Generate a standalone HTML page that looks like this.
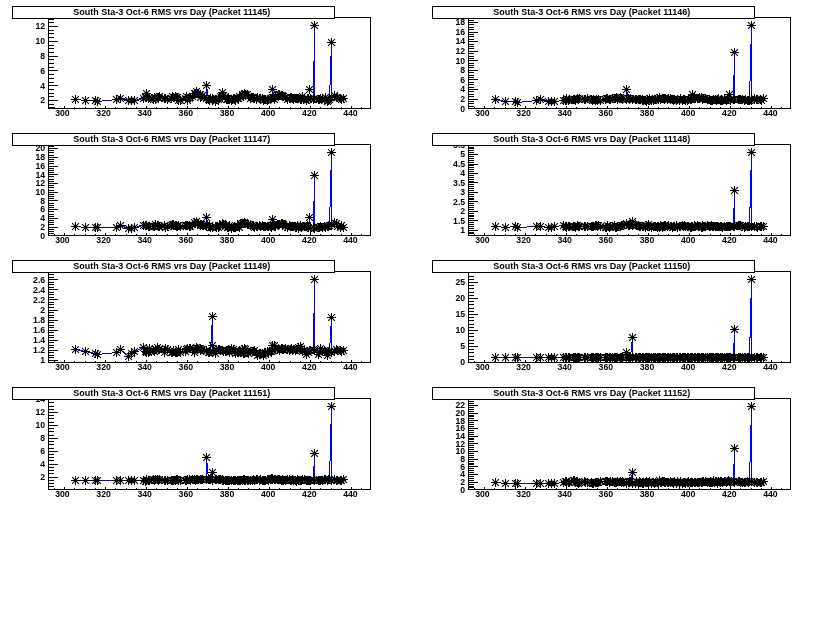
<!DOCTYPE html>
<html><head><meta charset="utf-8"><title>South Sta-3 Oct-6 RMS vrs Day</title>
<style>html,body{margin:0;padding:0;background:#fff}svg{display:block}</style></head>
<body>
<svg width="840" height="635" viewBox="0 0 840 635">
<defs><g id="m" stroke="#000" stroke-width="1" fill="none"><path d="M-4.5 0H4.5M0 -4.5V4.5" shape-rendering="crispEdges"/><path d="M-3.4 -3.4L3.4 3.4M-3.4 3.4L3.4 -3.4" stroke-width="1.1"/><rect x="-1.5" y="-1.5" width="3" height="3" fill="#000" stroke="none"/></g></defs>
<rect width="840" height="635" fill="#fff"/>
<g transform="translate(0,0)">
<rect x="48.5" y="17.5" width="322.00" height="91.00" fill="#fff" stroke="#000" stroke-width="1" shape-rendering="crispEdges"/>
<path d="M48.5 107.5H54M48.5 104.5H54M48.5 100.5H58M48.5 96.5H54M48.5 93.5H54M48.5 89.5H54M48.5 85.5H58M48.5 82.5H54M48.5 78.5H54M48.5 74.5H54M48.5 70.5H58M48.5 67.5H54M48.5 63.5H54M48.5 59.5H54M48.5 56.5H58M48.5 52.5H54M48.5 48.5H54M48.5 45.5H54M48.5 41.5H58M48.5 37.5H54M48.5 33.5H54M48.5 30.5H54M48.5 26.5H58M48.5 22.5H54M48.5 19.5H54M54.5 108.5V107.00M64.5 108.5V106.00M74.5 108.5V107.00M85.5 108.5V107.00M95.5 108.5V107.00M105.5 108.5V106.00M115.5 108.5V107.00M126.5 108.5V107.00M136.5 108.5V107.00M146.5 108.5V106.00M156.5 108.5V107.00M167.5 108.5V107.00M177.5 108.5V107.00M187.5 108.5V106.00M197.5 108.5V107.00M208.5 108.5V107.00M218.5 108.5V107.00M228.5 108.5V106.00M238.5 108.5V107.00M248.5 108.5V107.00M259.5 108.5V107.00M269.5 108.5V106.00M279.5 108.5V107.00M290.5 108.5V107.00M300.5 108.5V107.00M310.5 108.5V106.00M320.5 108.5V107.00M331.5 108.5V107.00M341.5 108.5V107.00M351.5 108.5V106.00M361.5 108.5V107.00" stroke="#000" stroke-width="1" fill="none" shape-rendering="crispEdges"/>
<text x="45.2" y="103.35" text-anchor="end" font-family="Liberation Sans, Arial, Helvetica, sans-serif" font-weight="bold" font-size="8.7" fill="#000">2</text>
<text x="45.2" y="88.57" text-anchor="end" font-family="Liberation Sans, Arial, Helvetica, sans-serif" font-weight="bold" font-size="8.7" fill="#000">4</text>
<text x="45.2" y="73.79" text-anchor="end" font-family="Liberation Sans, Arial, Helvetica, sans-serif" font-weight="bold" font-size="8.7" fill="#000">6</text>
<text x="45.2" y="59.01" text-anchor="end" font-family="Liberation Sans, Arial, Helvetica, sans-serif" font-weight="bold" font-size="8.7" fill="#000">8</text>
<text x="45.2" y="44.23" text-anchor="end" font-family="Liberation Sans, Arial, Helvetica, sans-serif" font-weight="bold" font-size="8.7" fill="#000">10</text>
<text x="45.2" y="29.45" text-anchor="end" font-family="Liberation Sans, Arial, Helvetica, sans-serif" font-weight="bold" font-size="8.7" fill="#000">12</text>
<text x="62.40" y="116.1" text-anchor="middle" font-family="Liberation Sans, Arial, Helvetica, sans-serif" font-weight="bold" font-size="8.7" fill="#000">300</text>
<text x="103.55" y="116.1" text-anchor="middle" font-family="Liberation Sans, Arial, Helvetica, sans-serif" font-weight="bold" font-size="8.7" fill="#000">320</text>
<text x="144.70" y="116.1" text-anchor="middle" font-family="Liberation Sans, Arial, Helvetica, sans-serif" font-weight="bold" font-size="8.7" fill="#000">340</text>
<text x="185.85" y="116.1" text-anchor="middle" font-family="Liberation Sans, Arial, Helvetica, sans-serif" font-weight="bold" font-size="8.7" fill="#000">360</text>
<text x="227.00" y="116.1" text-anchor="middle" font-family="Liberation Sans, Arial, Helvetica, sans-serif" font-weight="bold" font-size="8.7" fill="#000">380</text>
<text x="268.15" y="116.1" text-anchor="middle" font-family="Liberation Sans, Arial, Helvetica, sans-serif" font-weight="bold" font-size="8.7" fill="#000">400</text>
<text x="309.30" y="116.1" text-anchor="middle" font-family="Liberation Sans, Arial, Helvetica, sans-serif" font-weight="bold" font-size="8.7" fill="#000">420</text>
<text x="350.45" y="116.1" text-anchor="middle" font-family="Liberation Sans, Arial, Helvetica, sans-serif" font-weight="bold" font-size="8.7" fill="#000">440</text>
<polyline fill="none" stroke="#0000ff" stroke-width="1" shape-rendering="crispEdges" points="75.5,99.5 85.5,100.5 95.5,100.5 97.5,101.5 116.5,99.5 120.5,98.5 128.5,100.5 131.5,100.5 134.5,100.5 143.5,98.5 145.5,97.5 146.5,97.5 146.5,93.5 148.5,98.5 149.5,97.5 153.5,99.5 154.5,97.5 155.5,99.5 157.5,97.5 158.5,97.5 159.5,96.5 164.5,98.5 165.5,98.5 167.5,99.5 171.5,98.5 172.5,96.5 173.5,97.5 175.5,96.5 176.5,97.5 177.5,97.5 178.5,100.5 180.5,100.5 185.5,98.5 186.5,96.5 187.5,100.5 189.5,98.5 190.5,97.5 192.5,96.5 194.5,93.5 195.5,93.5 196.5,91.5 197.5,93.5 200.5,94.5 200.5,97.5 201.5,96.5 202.5,95.5 206.5,98.5 206.5,85.5 208.5,99.5 209.5,100.5 210.5,98.5 212.5,98.5 212.5,99.5 215.5,101.5 216.5,99.5 218.5,99.5 219.5,98.5 220.5,96.5 222.5,96.5 222.5,92.5 223.5,95.5 225.5,96.5 226.5,99.5 227.5,99.5 228.5,98.5 229.5,99.5 231.5,100.5 233.5,98.5 234.5,98.5 235.5,100.5 237.5,98.5 238.5,98.5 239.5,96.5 240.5,97.5 242.5,94.5 243.5,95.5 244.5,94.5 244.5,93.5 245.5,94.5 247.5,94.5 248.5,96.5 250.5,98.5 252.5,97.5 253.5,97.5 254.5,98.5 256.5,99.5 257.5,97.5 259.5,98.5 260.5,98.5 262.5,98.5 263.5,100.5 264.5,99.5 265.5,99.5 267.5,100.5 268.5,99.5 270.5,98.5 271.5,98.5 272.5,97.5 272.5,89.5 274.5,99.5 275.5,97.5 277.5,95.5 278.5,94.5 279.5,94.5 281.5,95.5 282.5,95.5 282.5,96.5 283.5,96.5 285.5,97.5 287.5,99.5 289.5,98.5 290.5,97.5 291.5,97.5 292.5,98.5 293.5,99.5 295.5,98.5 296.5,98.5 297.5,98.5 298.5,98.5 300.5,99.5 301.5,99.5 302.5,96.5 304.5,98.5 306.5,100.5 307.5,98.5 308.5,99.5 309.5,89.5 310.5,98.5 313.5,99.5 314.5,25.5 314.5,98.5 318.5,99.5 319.5,99.5 320.5,98.5 322.5,98.5 324.5,100.5 325.5,97.5 327.5,101.5 328.5,100.5 329.5,99.5 331.5,42.5 331.5,97.5 334.5,95.5 336.5,97.5 337.5,97.5 340.5,98.5 341.5,99.5 343.5,98.5"/>
<use href="#m" x="75.5" y="99.5"/><use href="#m" x="85.5" y="100.5"/><use href="#m" x="95.5" y="100.5"/><use href="#m" x="97.5" y="101.5"/><use href="#m" x="116.5" y="99.5"/><use href="#m" x="120.5" y="98.5"/><use href="#m" x="128.5" y="100.5"/><use href="#m" x="131.5" y="100.5"/><use href="#m" x="134.5" y="100.5"/><use href="#m" x="143.5" y="98.5"/><use href="#m" x="145.5" y="97.5"/><use href="#m" x="146.5" y="97.5"/><use href="#m" x="146.5" y="93.5"/><use href="#m" x="148.5" y="98.5"/><use href="#m" x="149.5" y="97.5"/><use href="#m" x="153.5" y="99.5"/><use href="#m" x="154.5" y="97.5"/><use href="#m" x="155.5" y="99.5"/><use href="#m" x="157.5" y="97.5"/><use href="#m" x="158.5" y="97.5"/><use href="#m" x="159.5" y="96.5"/><use href="#m" x="164.5" y="98.5"/><use href="#m" x="165.5" y="98.5"/><use href="#m" x="167.5" y="99.5"/><use href="#m" x="171.5" y="98.5"/><use href="#m" x="172.5" y="96.5"/><use href="#m" x="173.5" y="97.5"/><use href="#m" x="175.5" y="96.5"/><use href="#m" x="176.5" y="97.5"/><use href="#m" x="177.5" y="97.5"/><use href="#m" x="178.5" y="100.5"/><use href="#m" x="180.5" y="100.5"/><use href="#m" x="185.5" y="98.5"/><use href="#m" x="186.5" y="96.5"/><use href="#m" x="187.5" y="100.5"/><use href="#m" x="189.5" y="98.5"/><use href="#m" x="190.5" y="97.5"/><use href="#m" x="192.5" y="96.5"/><use href="#m" x="194.5" y="93.5"/><use href="#m" x="195.5" y="93.5"/><use href="#m" x="196.5" y="91.5"/><use href="#m" x="197.5" y="93.5"/><use href="#m" x="200.5" y="94.5"/><use href="#m" x="200.5" y="97.5"/><use href="#m" x="201.5" y="96.5"/><use href="#m" x="202.5" y="95.5"/><use href="#m" x="206.5" y="98.5"/><use href="#m" x="206.5" y="85.5"/><use href="#m" x="208.5" y="99.5"/><use href="#m" x="209.5" y="100.5"/><use href="#m" x="210.5" y="98.5"/><use href="#m" x="212.5" y="98.5"/><use href="#m" x="212.5" y="99.5"/><use href="#m" x="215.5" y="101.5"/><use href="#m" x="216.5" y="99.5"/><use href="#m" x="218.5" y="99.5"/><use href="#m" x="219.5" y="98.5"/><use href="#m" x="220.5" y="96.5"/><use href="#m" x="222.5" y="96.5"/><use href="#m" x="222.5" y="92.5"/><use href="#m" x="223.5" y="95.5"/><use href="#m" x="225.5" y="96.5"/><use href="#m" x="226.5" y="99.5"/><use href="#m" x="227.5" y="99.5"/><use href="#m" x="228.5" y="98.5"/><use href="#m" x="229.5" y="99.5"/><use href="#m" x="231.5" y="100.5"/><use href="#m" x="233.5" y="98.5"/><use href="#m" x="234.5" y="98.5"/><use href="#m" x="235.5" y="100.5"/><use href="#m" x="237.5" y="98.5"/><use href="#m" x="238.5" y="98.5"/><use href="#m" x="239.5" y="96.5"/><use href="#m" x="240.5" y="97.5"/><use href="#m" x="242.5" y="94.5"/><use href="#m" x="243.5" y="95.5"/><use href="#m" x="244.5" y="94.5"/><use href="#m" x="244.5" y="93.5"/><use href="#m" x="245.5" y="94.5"/><use href="#m" x="247.5" y="94.5"/><use href="#m" x="248.5" y="96.5"/><use href="#m" x="250.5" y="98.5"/><use href="#m" x="252.5" y="97.5"/><use href="#m" x="253.5" y="97.5"/><use href="#m" x="254.5" y="98.5"/><use href="#m" x="256.5" y="99.5"/><use href="#m" x="257.5" y="97.5"/><use href="#m" x="259.5" y="98.5"/><use href="#m" x="260.5" y="98.5"/><use href="#m" x="262.5" y="98.5"/><use href="#m" x="263.5" y="100.5"/><use href="#m" x="264.5" y="99.5"/><use href="#m" x="265.5" y="99.5"/><use href="#m" x="267.5" y="100.5"/><use href="#m" x="268.5" y="99.5"/><use href="#m" x="270.5" y="98.5"/><use href="#m" x="271.5" y="98.5"/><use href="#m" x="272.5" y="97.5"/><use href="#m" x="272.5" y="89.5"/><use href="#m" x="274.5" y="99.5"/><use href="#m" x="275.5" y="97.5"/><use href="#m" x="277.5" y="95.5"/><use href="#m" x="278.5" y="94.5"/><use href="#m" x="279.5" y="94.5"/><use href="#m" x="281.5" y="95.5"/><use href="#m" x="282.5" y="95.5"/><use href="#m" x="282.5" y="96.5"/><use href="#m" x="283.5" y="96.5"/><use href="#m" x="285.5" y="97.5"/><use href="#m" x="287.5" y="99.5"/><use href="#m" x="289.5" y="98.5"/><use href="#m" x="290.5" y="97.5"/><use href="#m" x="291.5" y="97.5"/><use href="#m" x="292.5" y="98.5"/><use href="#m" x="293.5" y="99.5"/><use href="#m" x="295.5" y="98.5"/><use href="#m" x="296.5" y="98.5"/><use href="#m" x="297.5" y="98.5"/><use href="#m" x="298.5" y="98.5"/><use href="#m" x="300.5" y="99.5"/><use href="#m" x="301.5" y="99.5"/><use href="#m" x="302.5" y="96.5"/><use href="#m" x="304.5" y="98.5"/><use href="#m" x="306.5" y="100.5"/><use href="#m" x="307.5" y="98.5"/><use href="#m" x="308.5" y="99.5"/><use href="#m" x="309.5" y="89.5"/><use href="#m" x="310.5" y="98.5"/><use href="#m" x="313.5" y="99.5"/><use href="#m" x="314.5" y="25.5"/><use href="#m" x="314.5" y="98.5"/><use href="#m" x="318.5" y="99.5"/><use href="#m" x="319.5" y="99.5"/><use href="#m" x="320.5" y="98.5"/><use href="#m" x="322.5" y="98.5"/><use href="#m" x="324.5" y="100.5"/><use href="#m" x="325.5" y="97.5"/><use href="#m" x="327.5" y="101.5"/><use href="#m" x="328.5" y="100.5"/><use href="#m" x="329.5" y="99.5"/><use href="#m" x="331.5" y="42.5"/><use href="#m" x="331.5" y="97.5"/><use href="#m" x="334.5" y="95.5"/><use href="#m" x="336.5" y="97.5"/><use href="#m" x="337.5" y="97.5"/><use href="#m" x="340.5" y="98.5"/><use href="#m" x="341.5" y="99.5"/><use href="#m" x="343.5" y="98.5"/>
<rect x="12.5" y="6.5" width="322.00" height="12.00" fill="#fff" stroke="#000" stroke-width="1" shape-rendering="crispEdges"/>
<text x="171.8" y="14.6" text-anchor="middle" font-family="Liberation Sans, Arial, Helvetica, sans-serif" font-weight="bold" font-size="9" fill="#000">South Sta-3 Oct-6 RMS vrs Day (Packet 11145)</text>
</g>
<g transform="translate(420,0)">
<rect x="48.5" y="17.5" width="322.00" height="91.00" fill="#fff" stroke="#000" stroke-width="1" shape-rendering="crispEdges"/>
<path d="M48.5 106.5H54M48.5 103.5H54M48.5 101.5H54M48.5 99.5H58M48.5 96.5H54M48.5 94.5H54M48.5 91.5H54M48.5 89.5H58M48.5 87.5H54M48.5 84.5H54M48.5 82.5H54M48.5 79.5H58M48.5 77.5H54M48.5 75.5H54M48.5 72.5H54M48.5 70.5H58M48.5 67.5H54M48.5 65.5H54M48.5 63.5H54M48.5 60.5H58M48.5 58.5H54M48.5 56.5H54M48.5 53.5H54M48.5 51.5H58M48.5 48.5H54M48.5 46.5H54M48.5 44.5H54M48.5 41.5H58M48.5 39.5H54M48.5 36.5H54M48.5 34.5H54M48.5 32.5H58M48.5 29.5H54M48.5 27.5H54M48.5 24.5H54M48.5 22.5H58M48.5 20.5H54M48.5 17.5H54M54.5 108.5V107.00M64.5 108.5V106.00M74.5 108.5V107.00M85.5 108.5V107.00M95.5 108.5V107.00M105.5 108.5V106.00M115.5 108.5V107.00M126.5 108.5V107.00M136.5 108.5V107.00M146.5 108.5V106.00M156.5 108.5V107.00M167.5 108.5V107.00M177.5 108.5V107.00M187.5 108.5V106.00M197.5 108.5V107.00M208.5 108.5V107.00M218.5 108.5V107.00M228.5 108.5V106.00M238.5 108.5V107.00M248.5 108.5V107.00M259.5 108.5V107.00M269.5 108.5V106.00M279.5 108.5V107.00M290.5 108.5V107.00M300.5 108.5V107.00M310.5 108.5V106.00M320.5 108.5V107.00M331.5 108.5V107.00M341.5 108.5V107.00M351.5 108.5V106.00M361.5 108.5V107.00" stroke="#000" stroke-width="1" fill="none" shape-rendering="crispEdges"/>
<text x="45.2" y="111.55" text-anchor="end" font-family="Liberation Sans, Arial, Helvetica, sans-serif" font-weight="bold" font-size="8.7" fill="#000">0</text>
<text x="45.2" y="101.97" text-anchor="end" font-family="Liberation Sans, Arial, Helvetica, sans-serif" font-weight="bold" font-size="8.7" fill="#000">2</text>
<text x="45.2" y="92.39" text-anchor="end" font-family="Liberation Sans, Arial, Helvetica, sans-serif" font-weight="bold" font-size="8.7" fill="#000">4</text>
<text x="45.2" y="82.81" text-anchor="end" font-family="Liberation Sans, Arial, Helvetica, sans-serif" font-weight="bold" font-size="8.7" fill="#000">6</text>
<text x="45.2" y="73.23" text-anchor="end" font-family="Liberation Sans, Arial, Helvetica, sans-serif" font-weight="bold" font-size="8.7" fill="#000">8</text>
<text x="45.2" y="63.65" text-anchor="end" font-family="Liberation Sans, Arial, Helvetica, sans-serif" font-weight="bold" font-size="8.7" fill="#000">10</text>
<text x="45.2" y="54.07" text-anchor="end" font-family="Liberation Sans, Arial, Helvetica, sans-serif" font-weight="bold" font-size="8.7" fill="#000">12</text>
<text x="45.2" y="44.49" text-anchor="end" font-family="Liberation Sans, Arial, Helvetica, sans-serif" font-weight="bold" font-size="8.7" fill="#000">14</text>
<text x="45.2" y="34.91" text-anchor="end" font-family="Liberation Sans, Arial, Helvetica, sans-serif" font-weight="bold" font-size="8.7" fill="#000">16</text>
<text x="45.2" y="25.33" text-anchor="end" font-family="Liberation Sans, Arial, Helvetica, sans-serif" font-weight="bold" font-size="8.7" fill="#000">18</text>
<text x="62.40" y="116.1" text-anchor="middle" font-family="Liberation Sans, Arial, Helvetica, sans-serif" font-weight="bold" font-size="8.7" fill="#000">300</text>
<text x="103.55" y="116.1" text-anchor="middle" font-family="Liberation Sans, Arial, Helvetica, sans-serif" font-weight="bold" font-size="8.7" fill="#000">320</text>
<text x="144.70" y="116.1" text-anchor="middle" font-family="Liberation Sans, Arial, Helvetica, sans-serif" font-weight="bold" font-size="8.7" fill="#000">340</text>
<text x="185.85" y="116.1" text-anchor="middle" font-family="Liberation Sans, Arial, Helvetica, sans-serif" font-weight="bold" font-size="8.7" fill="#000">360</text>
<text x="227.00" y="116.1" text-anchor="middle" font-family="Liberation Sans, Arial, Helvetica, sans-serif" font-weight="bold" font-size="8.7" fill="#000">380</text>
<text x="268.15" y="116.1" text-anchor="middle" font-family="Liberation Sans, Arial, Helvetica, sans-serif" font-weight="bold" font-size="8.7" fill="#000">400</text>
<text x="309.30" y="116.1" text-anchor="middle" font-family="Liberation Sans, Arial, Helvetica, sans-serif" font-weight="bold" font-size="8.7" fill="#000">420</text>
<text x="350.45" y="116.1" text-anchor="middle" font-family="Liberation Sans, Arial, Helvetica, sans-serif" font-weight="bold" font-size="8.7" fill="#000">440</text>
<polyline fill="none" stroke="#0000ff" stroke-width="1" shape-rendering="crispEdges" points="75.5,99.5 85.5,101.5 95.5,101.5 97.5,102.5 116.5,100.5 120.5,99.5 128.5,101.5 131.5,101.5 134.5,101.5 143.5,100.5 145.5,100.5 146.5,98.5 146.5,100.5 148.5,100.5 149.5,99.5 153.5,99.5 154.5,99.5 155.5,100.5 157.5,98.5 158.5,99.5 159.5,98.5 164.5,99.5 165.5,99.5 167.5,98.5 171.5,99.5 172.5,100.5 173.5,99.5 175.5,100.5 176.5,99.5 177.5,100.5 178.5,99.5 180.5,100.5 185.5,99.5 186.5,98.5 187.5,98.5 189.5,99.5 190.5,99.5 192.5,98.5 194.5,98.5 195.5,98.5 196.5,97.5 197.5,99.5 200.5,97.5 200.5,97.5 201.5,98.5 202.5,99.5 206.5,99.5 206.5,89.5 208.5,98.5 209.5,99.5 210.5,98.5 212.5,99.5 212.5,99.5 215.5,99.5 216.5,99.5 218.5,99.5 219.5,99.5 220.5,99.5 222.5,99.5 222.5,100.5 223.5,100.5 225.5,100.5 226.5,101.5 227.5,99.5 228.5,100.5 229.5,98.5 231.5,100.5 233.5,100.5 234.5,99.5 235.5,99.5 237.5,98.5 238.5,99.5 239.5,97.5 240.5,99.5 242.5,98.5 243.5,98.5 244.5,98.5 244.5,99.5 245.5,98.5 247.5,99.5 248.5,98.5 250.5,98.5 252.5,99.5 253.5,100.5 254.5,99.5 256.5,100.5 257.5,99.5 259.5,100.5 260.5,98.5 262.5,100.5 263.5,99.5 264.5,99.5 265.5,100.5 267.5,100.5 268.5,99.5 270.5,99.5 271.5,99.5 272.5,98.5 272.5,94.5 274.5,97.5 275.5,98.5 277.5,98.5 278.5,98.5 279.5,97.5 281.5,97.5 282.5,98.5 282.5,99.5 283.5,98.5 285.5,98.5 287.5,99.5 289.5,99.5 290.5,100.5 291.5,100.5 292.5,100.5 293.5,99.5 295.5,99.5 296.5,100.5 297.5,99.5 298.5,98.5 300.5,100.5 301.5,100.5 302.5,100.5 304.5,98.5 306.5,100.5 307.5,98.5 308.5,99.5 309.5,94.5 310.5,100.5 313.5,99.5 314.5,52.5 314.5,99.5 318.5,99.5 319.5,99.5 320.5,99.5 322.5,99.5 324.5,100.5 325.5,99.5 327.5,100.5 328.5,100.5 329.5,100.5 331.5,25.5 331.5,100.5 334.5,98.5 336.5,99.5 337.5,99.5 340.5,99.5 341.5,100.5 343.5,98.5"/>
<use href="#m" x="75.5" y="99.5"/><use href="#m" x="85.5" y="101.5"/><use href="#m" x="95.5" y="101.5"/><use href="#m" x="97.5" y="102.5"/><use href="#m" x="116.5" y="100.5"/><use href="#m" x="120.5" y="99.5"/><use href="#m" x="128.5" y="101.5"/><use href="#m" x="131.5" y="101.5"/><use href="#m" x="134.5" y="101.5"/><use href="#m" x="143.5" y="100.5"/><use href="#m" x="145.5" y="100.5"/><use href="#m" x="146.5" y="98.5"/><use href="#m" x="146.5" y="100.5"/><use href="#m" x="148.5" y="100.5"/><use href="#m" x="149.5" y="99.5"/><use href="#m" x="153.5" y="99.5"/><use href="#m" x="154.5" y="99.5"/><use href="#m" x="155.5" y="100.5"/><use href="#m" x="157.5" y="98.5"/><use href="#m" x="158.5" y="99.5"/><use href="#m" x="159.5" y="98.5"/><use href="#m" x="164.5" y="99.5"/><use href="#m" x="165.5" y="99.5"/><use href="#m" x="167.5" y="98.5"/><use href="#m" x="171.5" y="99.5"/><use href="#m" x="172.5" y="100.5"/><use href="#m" x="173.5" y="99.5"/><use href="#m" x="175.5" y="100.5"/><use href="#m" x="176.5" y="99.5"/><use href="#m" x="177.5" y="100.5"/><use href="#m" x="178.5" y="99.5"/><use href="#m" x="180.5" y="100.5"/><use href="#m" x="185.5" y="99.5"/><use href="#m" x="186.5" y="98.5"/><use href="#m" x="187.5" y="98.5"/><use href="#m" x="189.5" y="99.5"/><use href="#m" x="190.5" y="99.5"/><use href="#m" x="192.5" y="98.5"/><use href="#m" x="194.5" y="98.5"/><use href="#m" x="195.5" y="98.5"/><use href="#m" x="196.5" y="97.5"/><use href="#m" x="197.5" y="99.5"/><use href="#m" x="200.5" y="97.5"/><use href="#m" x="200.5" y="97.5"/><use href="#m" x="201.5" y="98.5"/><use href="#m" x="202.5" y="99.5"/><use href="#m" x="206.5" y="99.5"/><use href="#m" x="206.5" y="89.5"/><use href="#m" x="208.5" y="98.5"/><use href="#m" x="209.5" y="99.5"/><use href="#m" x="210.5" y="98.5"/><use href="#m" x="212.5" y="99.5"/><use href="#m" x="212.5" y="99.5"/><use href="#m" x="215.5" y="99.5"/><use href="#m" x="216.5" y="99.5"/><use href="#m" x="218.5" y="99.5"/><use href="#m" x="219.5" y="99.5"/><use href="#m" x="220.5" y="99.5"/><use href="#m" x="222.5" y="99.5"/><use href="#m" x="222.5" y="100.5"/><use href="#m" x="223.5" y="100.5"/><use href="#m" x="225.5" y="100.5"/><use href="#m" x="226.5" y="101.5"/><use href="#m" x="227.5" y="99.5"/><use href="#m" x="228.5" y="100.5"/><use href="#m" x="229.5" y="98.5"/><use href="#m" x="231.5" y="100.5"/><use href="#m" x="233.5" y="100.5"/><use href="#m" x="234.5" y="99.5"/><use href="#m" x="235.5" y="99.5"/><use href="#m" x="237.5" y="98.5"/><use href="#m" x="238.5" y="99.5"/><use href="#m" x="239.5" y="97.5"/><use href="#m" x="240.5" y="99.5"/><use href="#m" x="242.5" y="98.5"/><use href="#m" x="243.5" y="98.5"/><use href="#m" x="244.5" y="98.5"/><use href="#m" x="244.5" y="99.5"/><use href="#m" x="245.5" y="98.5"/><use href="#m" x="247.5" y="99.5"/><use href="#m" x="248.5" y="98.5"/><use href="#m" x="250.5" y="98.5"/><use href="#m" x="252.5" y="99.5"/><use href="#m" x="253.5" y="100.5"/><use href="#m" x="254.5" y="99.5"/><use href="#m" x="256.5" y="100.5"/><use href="#m" x="257.5" y="99.5"/><use href="#m" x="259.5" y="100.5"/><use href="#m" x="260.5" y="98.5"/><use href="#m" x="262.5" y="100.5"/><use href="#m" x="263.5" y="99.5"/><use href="#m" x="264.5" y="99.5"/><use href="#m" x="265.5" y="100.5"/><use href="#m" x="267.5" y="100.5"/><use href="#m" x="268.5" y="99.5"/><use href="#m" x="270.5" y="99.5"/><use href="#m" x="271.5" y="99.5"/><use href="#m" x="272.5" y="98.5"/><use href="#m" x="272.5" y="94.5"/><use href="#m" x="274.5" y="97.5"/><use href="#m" x="275.5" y="98.5"/><use href="#m" x="277.5" y="98.5"/><use href="#m" x="278.5" y="98.5"/><use href="#m" x="279.5" y="97.5"/><use href="#m" x="281.5" y="97.5"/><use href="#m" x="282.5" y="98.5"/><use href="#m" x="282.5" y="99.5"/><use href="#m" x="283.5" y="98.5"/><use href="#m" x="285.5" y="98.5"/><use href="#m" x="287.5" y="99.5"/><use href="#m" x="289.5" y="99.5"/><use href="#m" x="290.5" y="100.5"/><use href="#m" x="291.5" y="100.5"/><use href="#m" x="292.5" y="100.5"/><use href="#m" x="293.5" y="99.5"/><use href="#m" x="295.5" y="99.5"/><use href="#m" x="296.5" y="100.5"/><use href="#m" x="297.5" y="99.5"/><use href="#m" x="298.5" y="98.5"/><use href="#m" x="300.5" y="100.5"/><use href="#m" x="301.5" y="100.5"/><use href="#m" x="302.5" y="100.5"/><use href="#m" x="304.5" y="98.5"/><use href="#m" x="306.5" y="100.5"/><use href="#m" x="307.5" y="98.5"/><use href="#m" x="308.5" y="99.5"/><use href="#m" x="309.5" y="94.5"/><use href="#m" x="310.5" y="100.5"/><use href="#m" x="313.5" y="99.5"/><use href="#m" x="314.5" y="52.5"/><use href="#m" x="314.5" y="99.5"/><use href="#m" x="318.5" y="99.5"/><use href="#m" x="319.5" y="99.5"/><use href="#m" x="320.5" y="99.5"/><use href="#m" x="322.5" y="99.5"/><use href="#m" x="324.5" y="100.5"/><use href="#m" x="325.5" y="99.5"/><use href="#m" x="327.5" y="100.5"/><use href="#m" x="328.5" y="100.5"/><use href="#m" x="329.5" y="100.5"/><use href="#m" x="331.5" y="25.5"/><use href="#m" x="331.5" y="100.5"/><use href="#m" x="334.5" y="98.5"/><use href="#m" x="336.5" y="99.5"/><use href="#m" x="337.5" y="99.5"/><use href="#m" x="340.5" y="99.5"/><use href="#m" x="341.5" y="100.5"/><use href="#m" x="343.5" y="98.5"/>
<rect x="12.5" y="6.5" width="322.00" height="12.00" fill="#fff" stroke="#000" stroke-width="1" shape-rendering="crispEdges"/>
<text x="171.8" y="14.6" text-anchor="middle" font-family="Liberation Sans, Arial, Helvetica, sans-serif" font-weight="bold" font-size="9" fill="#000">South Sta-3 Oct-6 RMS vrs Day (Packet 11146)</text>
</g>
<g transform="translate(0,127)">
<rect x="48.5" y="17.5" width="322.00" height="91.00" fill="#fff" stroke="#000" stroke-width="1" shape-rendering="crispEdges"/>
<path d="M48.5 106.5H54M48.5 104.5H54M48.5 102.5H54M48.5 100.5H58M48.5 97.5H54M48.5 95.5H54M48.5 93.5H54M48.5 91.5H58M48.5 89.5H54M48.5 87.5H54M48.5 84.5H54M48.5 82.5H58M48.5 80.5H54M48.5 78.5H54M48.5 76.5H54M48.5 73.5H58M48.5 71.5H54M48.5 69.5H54M48.5 67.5H54M48.5 65.5H58M48.5 63.5H54M48.5 60.5H54M48.5 58.5H54M48.5 56.5H58M48.5 54.5H54M48.5 52.5H54M48.5 49.5H54M48.5 47.5H58M48.5 45.5H54M48.5 43.5H54M48.5 41.5H54M48.5 39.5H58M48.5 36.5H54M48.5 34.5H54M48.5 32.5H54M48.5 30.5H58M48.5 28.5H54M48.5 25.5H54M48.5 23.5H54M48.5 21.5H58M48.5 19.5H54M54.5 108.5V107.00M64.5 108.5V106.00M74.5 108.5V107.00M85.5 108.5V107.00M95.5 108.5V107.00M105.5 108.5V106.00M115.5 108.5V107.00M126.5 108.5V107.00M136.5 108.5V107.00M146.5 108.5V106.00M156.5 108.5V107.00M167.5 108.5V107.00M177.5 108.5V107.00M187.5 108.5V106.00M197.5 108.5V107.00M208.5 108.5V107.00M218.5 108.5V107.00M228.5 108.5V106.00M238.5 108.5V107.00M248.5 108.5V107.00M259.5 108.5V107.00M269.5 108.5V106.00M279.5 108.5V107.00M290.5 108.5V107.00M300.5 108.5V107.00M310.5 108.5V106.00M320.5 108.5V107.00M331.5 108.5V107.00M341.5 108.5V107.00M351.5 108.5V106.00M361.5 108.5V107.00" stroke="#000" stroke-width="1" fill="none" shape-rendering="crispEdges"/>
<text x="45.2" y="111.65" text-anchor="end" font-family="Liberation Sans, Arial, Helvetica, sans-serif" font-weight="bold" font-size="8.7" fill="#000">0</text>
<text x="45.2" y="102.93" text-anchor="end" font-family="Liberation Sans, Arial, Helvetica, sans-serif" font-weight="bold" font-size="8.7" fill="#000">2</text>
<text x="45.2" y="94.21" text-anchor="end" font-family="Liberation Sans, Arial, Helvetica, sans-serif" font-weight="bold" font-size="8.7" fill="#000">4</text>
<text x="45.2" y="85.49" text-anchor="end" font-family="Liberation Sans, Arial, Helvetica, sans-serif" font-weight="bold" font-size="8.7" fill="#000">6</text>
<text x="45.2" y="76.77" text-anchor="end" font-family="Liberation Sans, Arial, Helvetica, sans-serif" font-weight="bold" font-size="8.7" fill="#000">8</text>
<text x="45.2" y="68.05" text-anchor="end" font-family="Liberation Sans, Arial, Helvetica, sans-serif" font-weight="bold" font-size="8.7" fill="#000">10</text>
<text x="45.2" y="59.33" text-anchor="end" font-family="Liberation Sans, Arial, Helvetica, sans-serif" font-weight="bold" font-size="8.7" fill="#000">12</text>
<text x="45.2" y="50.61" text-anchor="end" font-family="Liberation Sans, Arial, Helvetica, sans-serif" font-weight="bold" font-size="8.7" fill="#000">14</text>
<text x="45.2" y="41.89" text-anchor="end" font-family="Liberation Sans, Arial, Helvetica, sans-serif" font-weight="bold" font-size="8.7" fill="#000">16</text>
<text x="45.2" y="33.17" text-anchor="end" font-family="Liberation Sans, Arial, Helvetica, sans-serif" font-weight="bold" font-size="8.7" fill="#000">18</text>
<text x="45.2" y="24.45" text-anchor="end" font-family="Liberation Sans, Arial, Helvetica, sans-serif" font-weight="bold" font-size="8.7" fill="#000">20</text>
<text x="62.40" y="116.1" text-anchor="middle" font-family="Liberation Sans, Arial, Helvetica, sans-serif" font-weight="bold" font-size="8.7" fill="#000">300</text>
<text x="103.55" y="116.1" text-anchor="middle" font-family="Liberation Sans, Arial, Helvetica, sans-serif" font-weight="bold" font-size="8.7" fill="#000">320</text>
<text x="144.70" y="116.1" text-anchor="middle" font-family="Liberation Sans, Arial, Helvetica, sans-serif" font-weight="bold" font-size="8.7" fill="#000">340</text>
<text x="185.85" y="116.1" text-anchor="middle" font-family="Liberation Sans, Arial, Helvetica, sans-serif" font-weight="bold" font-size="8.7" fill="#000">360</text>
<text x="227.00" y="116.1" text-anchor="middle" font-family="Liberation Sans, Arial, Helvetica, sans-serif" font-weight="bold" font-size="8.7" fill="#000">380</text>
<text x="268.15" y="116.1" text-anchor="middle" font-family="Liberation Sans, Arial, Helvetica, sans-serif" font-weight="bold" font-size="8.7" fill="#000">400</text>
<text x="309.30" y="116.1" text-anchor="middle" font-family="Liberation Sans, Arial, Helvetica, sans-serif" font-weight="bold" font-size="8.7" fill="#000">420</text>
<text x="350.45" y="116.1" text-anchor="middle" font-family="Liberation Sans, Arial, Helvetica, sans-serif" font-weight="bold" font-size="8.7" fill="#000">440</text>
<polyline fill="none" stroke="#0000ff" stroke-width="1" shape-rendering="crispEdges" points="75.5,99.5 85.5,100.5 95.5,100.5 97.5,100.5 116.5,100.5 120.5,98.5 128.5,101.5 131.5,101.5 134.5,100.5 143.5,98.5 145.5,98.5 146.5,98.5 146.5,98.5 148.5,99.5 149.5,99.5 153.5,99.5 154.5,99.5 155.5,97.5 157.5,98.5 158.5,99.5 159.5,99.5 164.5,98.5 165.5,100.5 167.5,99.5 171.5,98.5 172.5,97.5 173.5,97.5 175.5,98.5 176.5,99.5 177.5,99.5 178.5,98.5 180.5,99.5 185.5,98.5 186.5,98.5 187.5,98.5 189.5,99.5 190.5,99.5 192.5,97.5 194.5,95.5 195.5,96.5 196.5,94.5 197.5,97.5 200.5,97.5 200.5,98.5 201.5,97.5 202.5,98.5 206.5,99.5 206.5,90.5 208.5,99.5 209.5,98.5 210.5,100.5 212.5,100.5 212.5,100.5 215.5,99.5 216.5,100.5 218.5,100.5 219.5,98.5 220.5,98.5 222.5,98.5 222.5,96.5 223.5,97.5 225.5,98.5 226.5,98.5 227.5,100.5 228.5,100.5 229.5,98.5 231.5,101.5 233.5,100.5 234.5,100.5 235.5,100.5 237.5,98.5 238.5,99.5 239.5,100.5 240.5,96.5 242.5,96.5 243.5,96.5 244.5,95.5 244.5,95.5 245.5,96.5 247.5,97.5 248.5,97.5 250.5,97.5 252.5,98.5 253.5,99.5 254.5,100.5 256.5,99.5 257.5,99.5 259.5,98.5 260.5,99.5 262.5,98.5 263.5,99.5 264.5,99.5 265.5,99.5 267.5,99.5 268.5,99.5 270.5,99.5 271.5,100.5 272.5,98.5 272.5,92.5 274.5,98.5 275.5,99.5 277.5,97.5 278.5,97.5 279.5,97.5 281.5,96.5 282.5,97.5 282.5,96.5 283.5,97.5 285.5,99.5 287.5,100.5 289.5,98.5 290.5,99.5 291.5,99.5 292.5,99.5 293.5,99.5 295.5,99.5 296.5,100.5 297.5,98.5 298.5,101.5 300.5,98.5 301.5,100.5 302.5,99.5 304.5,99.5 306.5,99.5 307.5,98.5 308.5,100.5 309.5,90.5 310.5,101.5 313.5,100.5 314.5,48.5 314.5,101.5 318.5,100.5 319.5,100.5 320.5,99.5 322.5,100.5 324.5,99.5 325.5,100.5 327.5,99.5 328.5,99.5 329.5,98.5 331.5,25.5 331.5,97.5 334.5,95.5 336.5,96.5 337.5,99.5 340.5,100.5 341.5,98.5 343.5,100.5"/>
<use href="#m" x="75.5" y="99.5"/><use href="#m" x="85.5" y="100.5"/><use href="#m" x="95.5" y="100.5"/><use href="#m" x="97.5" y="100.5"/><use href="#m" x="116.5" y="100.5"/><use href="#m" x="120.5" y="98.5"/><use href="#m" x="128.5" y="101.5"/><use href="#m" x="131.5" y="101.5"/><use href="#m" x="134.5" y="100.5"/><use href="#m" x="143.5" y="98.5"/><use href="#m" x="145.5" y="98.5"/><use href="#m" x="146.5" y="98.5"/><use href="#m" x="146.5" y="98.5"/><use href="#m" x="148.5" y="99.5"/><use href="#m" x="149.5" y="99.5"/><use href="#m" x="153.5" y="99.5"/><use href="#m" x="154.5" y="99.5"/><use href="#m" x="155.5" y="97.5"/><use href="#m" x="157.5" y="98.5"/><use href="#m" x="158.5" y="99.5"/><use href="#m" x="159.5" y="99.5"/><use href="#m" x="164.5" y="98.5"/><use href="#m" x="165.5" y="100.5"/><use href="#m" x="167.5" y="99.5"/><use href="#m" x="171.5" y="98.5"/><use href="#m" x="172.5" y="97.5"/><use href="#m" x="173.5" y="97.5"/><use href="#m" x="175.5" y="98.5"/><use href="#m" x="176.5" y="99.5"/><use href="#m" x="177.5" y="99.5"/><use href="#m" x="178.5" y="98.5"/><use href="#m" x="180.5" y="99.5"/><use href="#m" x="185.5" y="98.5"/><use href="#m" x="186.5" y="98.5"/><use href="#m" x="187.5" y="98.5"/><use href="#m" x="189.5" y="99.5"/><use href="#m" x="190.5" y="99.5"/><use href="#m" x="192.5" y="97.5"/><use href="#m" x="194.5" y="95.5"/><use href="#m" x="195.5" y="96.5"/><use href="#m" x="196.5" y="94.5"/><use href="#m" x="197.5" y="97.5"/><use href="#m" x="200.5" y="97.5"/><use href="#m" x="200.5" y="98.5"/><use href="#m" x="201.5" y="97.5"/><use href="#m" x="202.5" y="98.5"/><use href="#m" x="206.5" y="99.5"/><use href="#m" x="206.5" y="90.5"/><use href="#m" x="208.5" y="99.5"/><use href="#m" x="209.5" y="98.5"/><use href="#m" x="210.5" y="100.5"/><use href="#m" x="212.5" y="100.5"/><use href="#m" x="212.5" y="100.5"/><use href="#m" x="215.5" y="99.5"/><use href="#m" x="216.5" y="100.5"/><use href="#m" x="218.5" y="100.5"/><use href="#m" x="219.5" y="98.5"/><use href="#m" x="220.5" y="98.5"/><use href="#m" x="222.5" y="98.5"/><use href="#m" x="222.5" y="96.5"/><use href="#m" x="223.5" y="97.5"/><use href="#m" x="225.5" y="98.5"/><use href="#m" x="226.5" y="98.5"/><use href="#m" x="227.5" y="100.5"/><use href="#m" x="228.5" y="100.5"/><use href="#m" x="229.5" y="98.5"/><use href="#m" x="231.5" y="101.5"/><use href="#m" x="233.5" y="100.5"/><use href="#m" x="234.5" y="100.5"/><use href="#m" x="235.5" y="100.5"/><use href="#m" x="237.5" y="98.5"/><use href="#m" x="238.5" y="99.5"/><use href="#m" x="239.5" y="100.5"/><use href="#m" x="240.5" y="96.5"/><use href="#m" x="242.5" y="96.5"/><use href="#m" x="243.5" y="96.5"/><use href="#m" x="244.5" y="95.5"/><use href="#m" x="244.5" y="95.5"/><use href="#m" x="245.5" y="96.5"/><use href="#m" x="247.5" y="97.5"/><use href="#m" x="248.5" y="97.5"/><use href="#m" x="250.5" y="97.5"/><use href="#m" x="252.5" y="98.5"/><use href="#m" x="253.5" y="99.5"/><use href="#m" x="254.5" y="100.5"/><use href="#m" x="256.5" y="99.5"/><use href="#m" x="257.5" y="99.5"/><use href="#m" x="259.5" y="98.5"/><use href="#m" x="260.5" y="99.5"/><use href="#m" x="262.5" y="98.5"/><use href="#m" x="263.5" y="99.5"/><use href="#m" x="264.5" y="99.5"/><use href="#m" x="265.5" y="99.5"/><use href="#m" x="267.5" y="99.5"/><use href="#m" x="268.5" y="99.5"/><use href="#m" x="270.5" y="99.5"/><use href="#m" x="271.5" y="100.5"/><use href="#m" x="272.5" y="98.5"/><use href="#m" x="272.5" y="92.5"/><use href="#m" x="274.5" y="98.5"/><use href="#m" x="275.5" y="99.5"/><use href="#m" x="277.5" y="97.5"/><use href="#m" x="278.5" y="97.5"/><use href="#m" x="279.5" y="97.5"/><use href="#m" x="281.5" y="96.5"/><use href="#m" x="282.5" y="97.5"/><use href="#m" x="282.5" y="96.5"/><use href="#m" x="283.5" y="97.5"/><use href="#m" x="285.5" y="99.5"/><use href="#m" x="287.5" y="100.5"/><use href="#m" x="289.5" y="98.5"/><use href="#m" x="290.5" y="99.5"/><use href="#m" x="291.5" y="99.5"/><use href="#m" x="292.5" y="99.5"/><use href="#m" x="293.5" y="99.5"/><use href="#m" x="295.5" y="99.5"/><use href="#m" x="296.5" y="100.5"/><use href="#m" x="297.5" y="98.5"/><use href="#m" x="298.5" y="101.5"/><use href="#m" x="300.5" y="98.5"/><use href="#m" x="301.5" y="100.5"/><use href="#m" x="302.5" y="99.5"/><use href="#m" x="304.5" y="99.5"/><use href="#m" x="306.5" y="99.5"/><use href="#m" x="307.5" y="98.5"/><use href="#m" x="308.5" y="100.5"/><use href="#m" x="309.5" y="90.5"/><use href="#m" x="310.5" y="101.5"/><use href="#m" x="313.5" y="100.5"/><use href="#m" x="314.5" y="48.5"/><use href="#m" x="314.5" y="101.5"/><use href="#m" x="318.5" y="100.5"/><use href="#m" x="319.5" y="100.5"/><use href="#m" x="320.5" y="99.5"/><use href="#m" x="322.5" y="100.5"/><use href="#m" x="324.5" y="99.5"/><use href="#m" x="325.5" y="100.5"/><use href="#m" x="327.5" y="99.5"/><use href="#m" x="328.5" y="99.5"/><use href="#m" x="329.5" y="98.5"/><use href="#m" x="331.5" y="25.5"/><use href="#m" x="331.5" y="97.5"/><use href="#m" x="334.5" y="95.5"/><use href="#m" x="336.5" y="96.5"/><use href="#m" x="337.5" y="99.5"/><use href="#m" x="340.5" y="100.5"/><use href="#m" x="341.5" y="98.5"/><use href="#m" x="343.5" y="100.5"/>
<rect x="12.5" y="6.5" width="322.00" height="12.00" fill="#fff" stroke="#000" stroke-width="1" shape-rendering="crispEdges"/>
<text x="171.8" y="14.6" text-anchor="middle" font-family="Liberation Sans, Arial, Helvetica, sans-serif" font-weight="bold" font-size="9" fill="#000">South Sta-3 Oct-6 RMS vrs Day (Packet 11147)</text>
</g>
<g transform="translate(420,127)">
<rect x="48.5" y="17.5" width="322.00" height="91.00" fill="#fff" stroke="#000" stroke-width="1" shape-rendering="crispEdges"/>
<path d="M48.5 106.5H54M48.5 105.5H54M48.5 103.5H58M48.5 101.5H54M48.5 99.5H54M48.5 97.5H54M48.5 95.5H54M48.5 93.5H58M48.5 91.5H54M48.5 89.5H54M48.5 88.5H54M48.5 86.5H54M48.5 84.5H58M48.5 82.5H54M48.5 80.5H54M48.5 78.5H54M48.5 76.5H54M48.5 74.5H58M48.5 72.5H54M48.5 71.5H54M48.5 69.5H54M48.5 67.5H54M48.5 65.5H58M48.5 63.5H54M48.5 61.5H54M48.5 59.5H54M48.5 57.5H54M48.5 55.5H58M48.5 54.5H54M48.5 52.5H54M48.5 50.5H54M48.5 48.5H54M48.5 46.5H58M48.5 44.5H54M48.5 42.5H54M48.5 40.5H54M48.5 38.5H54M48.5 37.5H58M48.5 35.5H54M48.5 33.5H54M48.5 31.5H54M48.5 29.5H54M48.5 27.5H58M48.5 25.5H54M48.5 23.5H54M48.5 21.5H54M48.5 20.5H54M48.5 18.5H58M54.5 108.5V107.00M64.5 108.5V106.00M74.5 108.5V107.00M85.5 108.5V107.00M95.5 108.5V107.00M105.5 108.5V106.00M115.5 108.5V107.00M126.5 108.5V107.00M136.5 108.5V107.00M146.5 108.5V106.00M156.5 108.5V107.00M167.5 108.5V107.00M177.5 108.5V107.00M187.5 108.5V106.00M197.5 108.5V107.00M208.5 108.5V107.00M218.5 108.5V107.00M228.5 108.5V106.00M238.5 108.5V107.00M248.5 108.5V107.00M259.5 108.5V107.00M269.5 108.5V106.00M279.5 108.5V107.00M290.5 108.5V107.00M300.5 108.5V107.00M310.5 108.5V106.00M320.5 108.5V107.00M331.5 108.5V107.00M341.5 108.5V107.00M351.5 108.5V106.00M361.5 108.5V107.00" stroke="#000" stroke-width="1" fill="none" shape-rendering="crispEdges"/>
<text x="45.2" y="106.05" text-anchor="end" font-family="Liberation Sans, Arial, Helvetica, sans-serif" font-weight="bold" font-size="8.7" fill="#000">1</text>
<text x="45.2" y="96.60" text-anchor="end" font-family="Liberation Sans, Arial, Helvetica, sans-serif" font-weight="bold" font-size="8.7" fill="#000">1.5</text>
<text x="45.2" y="87.15" text-anchor="end" font-family="Liberation Sans, Arial, Helvetica, sans-serif" font-weight="bold" font-size="8.7" fill="#000">2</text>
<text x="45.2" y="77.70" text-anchor="end" font-family="Liberation Sans, Arial, Helvetica, sans-serif" font-weight="bold" font-size="8.7" fill="#000">2.5</text>
<text x="45.2" y="68.25" text-anchor="end" font-family="Liberation Sans, Arial, Helvetica, sans-serif" font-weight="bold" font-size="8.7" fill="#000">3</text>
<text x="45.2" y="58.80" text-anchor="end" font-family="Liberation Sans, Arial, Helvetica, sans-serif" font-weight="bold" font-size="8.7" fill="#000">3.5</text>
<text x="45.2" y="49.35" text-anchor="end" font-family="Liberation Sans, Arial, Helvetica, sans-serif" font-weight="bold" font-size="8.7" fill="#000">4</text>
<text x="45.2" y="39.90" text-anchor="end" font-family="Liberation Sans, Arial, Helvetica, sans-serif" font-weight="bold" font-size="8.7" fill="#000">4.5</text>
<text x="45.2" y="30.45" text-anchor="end" font-family="Liberation Sans, Arial, Helvetica, sans-serif" font-weight="bold" font-size="8.7" fill="#000">5</text>
<text x="45.2" y="21.00" text-anchor="end" font-family="Liberation Sans, Arial, Helvetica, sans-serif" font-weight="bold" font-size="8.7" fill="#000">5.5</text>
<text x="62.40" y="116.1" text-anchor="middle" font-family="Liberation Sans, Arial, Helvetica, sans-serif" font-weight="bold" font-size="8.7" fill="#000">300</text>
<text x="103.55" y="116.1" text-anchor="middle" font-family="Liberation Sans, Arial, Helvetica, sans-serif" font-weight="bold" font-size="8.7" fill="#000">320</text>
<text x="144.70" y="116.1" text-anchor="middle" font-family="Liberation Sans, Arial, Helvetica, sans-serif" font-weight="bold" font-size="8.7" fill="#000">340</text>
<text x="185.85" y="116.1" text-anchor="middle" font-family="Liberation Sans, Arial, Helvetica, sans-serif" font-weight="bold" font-size="8.7" fill="#000">360</text>
<text x="227.00" y="116.1" text-anchor="middle" font-family="Liberation Sans, Arial, Helvetica, sans-serif" font-weight="bold" font-size="8.7" fill="#000">380</text>
<text x="268.15" y="116.1" text-anchor="middle" font-family="Liberation Sans, Arial, Helvetica, sans-serif" font-weight="bold" font-size="8.7" fill="#000">400</text>
<text x="309.30" y="116.1" text-anchor="middle" font-family="Liberation Sans, Arial, Helvetica, sans-serif" font-weight="bold" font-size="8.7" fill="#000">420</text>
<text x="350.45" y="116.1" text-anchor="middle" font-family="Liberation Sans, Arial, Helvetica, sans-serif" font-weight="bold" font-size="8.7" fill="#000">440</text>
<polyline fill="none" stroke="#0000ff" stroke-width="1" shape-rendering="crispEdges" points="75.5,99.5 85.5,100.5 95.5,99.5 97.5,100.5 116.5,99.5 120.5,99.5 128.5,100.5 131.5,100.5 134.5,99.5 143.5,98.5 145.5,99.5 146.5,99.5 146.5,100.5 148.5,99.5 149.5,99.5 153.5,99.5 154.5,99.5 155.5,100.5 157.5,98.5 158.5,99.5 159.5,99.5 164.5,99.5 165.5,99.5 167.5,99.5 171.5,99.5 172.5,99.5 173.5,99.5 175.5,98.5 176.5,98.5 177.5,99.5 178.5,98.5 180.5,99.5 185.5,100.5 186.5,100.5 187.5,98.5 189.5,100.5 190.5,99.5 192.5,99.5 194.5,98.5 195.5,100.5 196.5,100.5 197.5,99.5 200.5,99.5 200.5,99.5 201.5,98.5 202.5,98.5 206.5,96.5 206.5,97.5 208.5,98.5 209.5,98.5 210.5,97.5 212.5,94.5 212.5,98.5 215.5,97.5 216.5,98.5 218.5,98.5 219.5,99.5 220.5,99.5 222.5,99.5 222.5,99.5 223.5,99.5 225.5,100.5 226.5,98.5 227.5,99.5 228.5,97.5 229.5,99.5 231.5,100.5 233.5,99.5 234.5,99.5 235.5,99.5 237.5,100.5 238.5,99.5 239.5,100.5 240.5,98.5 242.5,100.5 243.5,99.5 244.5,98.5 244.5,99.5 245.5,98.5 247.5,99.5 248.5,98.5 250.5,99.5 252.5,100.5 253.5,99.5 254.5,99.5 256.5,98.5 257.5,100.5 259.5,99.5 260.5,99.5 262.5,98.5 263.5,99.5 264.5,98.5 265.5,99.5 267.5,99.5 268.5,99.5 270.5,100.5 271.5,100.5 272.5,99.5 272.5,99.5 274.5,98.5 275.5,99.5 277.5,98.5 278.5,99.5 279.5,99.5 281.5,100.5 282.5,100.5 282.5,98.5 283.5,99.5 285.5,99.5 287.5,98.5 289.5,99.5 290.5,99.5 291.5,98.5 292.5,99.5 293.5,99.5 295.5,99.5 296.5,99.5 297.5,99.5 298.5,99.5 300.5,99.5 301.5,99.5 302.5,100.5 304.5,99.5 306.5,99.5 307.5,99.5 308.5,99.5 309.5,99.5 310.5,99.5 313.5,99.5 314.5,63.5 314.5,99.5 318.5,98.5 319.5,98.5 320.5,98.5 322.5,99.5 324.5,100.5 325.5,99.5 327.5,99.5 328.5,99.5 329.5,99.5 331.5,25.5 331.5,99.5 334.5,99.5 336.5,99.5 337.5,100.5 340.5,99.5 341.5,99.5 343.5,99.5"/>
<use href="#m" x="75.5" y="99.5"/><use href="#m" x="85.5" y="100.5"/><use href="#m" x="95.5" y="99.5"/><use href="#m" x="97.5" y="100.5"/><use href="#m" x="116.5" y="99.5"/><use href="#m" x="120.5" y="99.5"/><use href="#m" x="128.5" y="100.5"/><use href="#m" x="131.5" y="100.5"/><use href="#m" x="134.5" y="99.5"/><use href="#m" x="143.5" y="98.5"/><use href="#m" x="145.5" y="99.5"/><use href="#m" x="146.5" y="99.5"/><use href="#m" x="146.5" y="100.5"/><use href="#m" x="148.5" y="99.5"/><use href="#m" x="149.5" y="99.5"/><use href="#m" x="153.5" y="99.5"/><use href="#m" x="154.5" y="99.5"/><use href="#m" x="155.5" y="100.5"/><use href="#m" x="157.5" y="98.5"/><use href="#m" x="158.5" y="99.5"/><use href="#m" x="159.5" y="99.5"/><use href="#m" x="164.5" y="99.5"/><use href="#m" x="165.5" y="99.5"/><use href="#m" x="167.5" y="99.5"/><use href="#m" x="171.5" y="99.5"/><use href="#m" x="172.5" y="99.5"/><use href="#m" x="173.5" y="99.5"/><use href="#m" x="175.5" y="98.5"/><use href="#m" x="176.5" y="98.5"/><use href="#m" x="177.5" y="99.5"/><use href="#m" x="178.5" y="98.5"/><use href="#m" x="180.5" y="99.5"/><use href="#m" x="185.5" y="100.5"/><use href="#m" x="186.5" y="100.5"/><use href="#m" x="187.5" y="98.5"/><use href="#m" x="189.5" y="100.5"/><use href="#m" x="190.5" y="99.5"/><use href="#m" x="192.5" y="99.5"/><use href="#m" x="194.5" y="98.5"/><use href="#m" x="195.5" y="100.5"/><use href="#m" x="196.5" y="100.5"/><use href="#m" x="197.5" y="99.5"/><use href="#m" x="200.5" y="99.5"/><use href="#m" x="200.5" y="99.5"/><use href="#m" x="201.5" y="98.5"/><use href="#m" x="202.5" y="98.5"/><use href="#m" x="206.5" y="96.5"/><use href="#m" x="206.5" y="97.5"/><use href="#m" x="208.5" y="98.5"/><use href="#m" x="209.5" y="98.5"/><use href="#m" x="210.5" y="97.5"/><use href="#m" x="212.5" y="94.5"/><use href="#m" x="212.5" y="98.5"/><use href="#m" x="215.5" y="97.5"/><use href="#m" x="216.5" y="98.5"/><use href="#m" x="218.5" y="98.5"/><use href="#m" x="219.5" y="99.5"/><use href="#m" x="220.5" y="99.5"/><use href="#m" x="222.5" y="99.5"/><use href="#m" x="222.5" y="99.5"/><use href="#m" x="223.5" y="99.5"/><use href="#m" x="225.5" y="100.5"/><use href="#m" x="226.5" y="98.5"/><use href="#m" x="227.5" y="99.5"/><use href="#m" x="228.5" y="97.5"/><use href="#m" x="229.5" y="99.5"/><use href="#m" x="231.5" y="100.5"/><use href="#m" x="233.5" y="99.5"/><use href="#m" x="234.5" y="99.5"/><use href="#m" x="235.5" y="99.5"/><use href="#m" x="237.5" y="100.5"/><use href="#m" x="238.5" y="99.5"/><use href="#m" x="239.5" y="100.5"/><use href="#m" x="240.5" y="98.5"/><use href="#m" x="242.5" y="100.5"/><use href="#m" x="243.5" y="99.5"/><use href="#m" x="244.5" y="98.5"/><use href="#m" x="244.5" y="99.5"/><use href="#m" x="245.5" y="98.5"/><use href="#m" x="247.5" y="99.5"/><use href="#m" x="248.5" y="98.5"/><use href="#m" x="250.5" y="99.5"/><use href="#m" x="252.5" y="100.5"/><use href="#m" x="253.5" y="99.5"/><use href="#m" x="254.5" y="99.5"/><use href="#m" x="256.5" y="98.5"/><use href="#m" x="257.5" y="100.5"/><use href="#m" x="259.5" y="99.5"/><use href="#m" x="260.5" y="99.5"/><use href="#m" x="262.5" y="98.5"/><use href="#m" x="263.5" y="99.5"/><use href="#m" x="264.5" y="98.5"/><use href="#m" x="265.5" y="99.5"/><use href="#m" x="267.5" y="99.5"/><use href="#m" x="268.5" y="99.5"/><use href="#m" x="270.5" y="100.5"/><use href="#m" x="271.5" y="100.5"/><use href="#m" x="272.5" y="99.5"/><use href="#m" x="272.5" y="99.5"/><use href="#m" x="274.5" y="98.5"/><use href="#m" x="275.5" y="99.5"/><use href="#m" x="277.5" y="98.5"/><use href="#m" x="278.5" y="99.5"/><use href="#m" x="279.5" y="99.5"/><use href="#m" x="281.5" y="100.5"/><use href="#m" x="282.5" y="100.5"/><use href="#m" x="282.5" y="98.5"/><use href="#m" x="283.5" y="99.5"/><use href="#m" x="285.5" y="99.5"/><use href="#m" x="287.5" y="98.5"/><use href="#m" x="289.5" y="99.5"/><use href="#m" x="290.5" y="99.5"/><use href="#m" x="291.5" y="98.5"/><use href="#m" x="292.5" y="99.5"/><use href="#m" x="293.5" y="99.5"/><use href="#m" x="295.5" y="99.5"/><use href="#m" x="296.5" y="99.5"/><use href="#m" x="297.5" y="99.5"/><use href="#m" x="298.5" y="99.5"/><use href="#m" x="300.5" y="99.5"/><use href="#m" x="301.5" y="99.5"/><use href="#m" x="302.5" y="100.5"/><use href="#m" x="304.5" y="99.5"/><use href="#m" x="306.5" y="99.5"/><use href="#m" x="307.5" y="99.5"/><use href="#m" x="308.5" y="99.5"/><use href="#m" x="309.5" y="99.5"/><use href="#m" x="310.5" y="99.5"/><use href="#m" x="313.5" y="99.5"/><use href="#m" x="314.5" y="63.5"/><use href="#m" x="314.5" y="99.5"/><use href="#m" x="318.5" y="98.5"/><use href="#m" x="319.5" y="98.5"/><use href="#m" x="320.5" y="98.5"/><use href="#m" x="322.5" y="99.5"/><use href="#m" x="324.5" y="100.5"/><use href="#m" x="325.5" y="99.5"/><use href="#m" x="327.5" y="99.5"/><use href="#m" x="328.5" y="99.5"/><use href="#m" x="329.5" y="99.5"/><use href="#m" x="331.5" y="25.5"/><use href="#m" x="331.5" y="99.5"/><use href="#m" x="334.5" y="99.5"/><use href="#m" x="336.5" y="99.5"/><use href="#m" x="337.5" y="100.5"/><use href="#m" x="340.5" y="99.5"/><use href="#m" x="341.5" y="99.5"/><use href="#m" x="343.5" y="99.5"/>
<rect x="12.5" y="6.5" width="322.00" height="12.00" fill="#fff" stroke="#000" stroke-width="1" shape-rendering="crispEdges"/>
<text x="171.8" y="14.6" text-anchor="middle" font-family="Liberation Sans, Arial, Helvetica, sans-serif" font-weight="bold" font-size="9" fill="#000">South Sta-3 Oct-6 RMS vrs Day (Packet 11148)</text>
</g>
<g transform="translate(0,254)">
<rect x="48.5" y="17.5" width="322.00" height="91.00" fill="#fff" stroke="#000" stroke-width="1" shape-rendering="crispEdges"/>
<path d="M48.5 106.5H58M48.5 103.5H54M48.5 101.5H54M48.5 98.5H54M48.5 96.5H58M48.5 93.5H54M48.5 91.5H54M48.5 88.5H54M48.5 86.5H58M48.5 83.5H54M48.5 81.5H54M48.5 78.5H54M48.5 76.5H58M48.5 73.5H54M48.5 71.5H54M48.5 68.5H54M48.5 66.5H58M48.5 63.5H54M48.5 61.5H54M48.5 58.5H54M48.5 56.5H58M48.5 53.5H54M48.5 50.5H54M48.5 48.5H54M48.5 45.5H58M48.5 43.5H54M48.5 40.5H54M48.5 38.5H54M48.5 35.5H58M48.5 33.5H54M48.5 30.5H54M48.5 28.5H54M48.5 25.5H58M48.5 23.5H54M48.5 20.5H54M48.5 18.5H54M54.5 108.5V107.00M64.5 108.5V106.00M74.5 108.5V107.00M85.5 108.5V107.00M95.5 108.5V107.00M105.5 108.5V106.00M115.5 108.5V107.00M126.5 108.5V107.00M136.5 108.5V107.00M146.5 108.5V106.00M156.5 108.5V107.00M167.5 108.5V107.00M177.5 108.5V107.00M187.5 108.5V106.00M197.5 108.5V107.00M208.5 108.5V107.00M218.5 108.5V107.00M228.5 108.5V106.00M238.5 108.5V107.00M248.5 108.5V107.00M259.5 108.5V107.00M269.5 108.5V106.00M279.5 108.5V107.00M290.5 108.5V107.00M300.5 108.5V107.00M310.5 108.5V106.00M320.5 108.5V107.00M331.5 108.5V107.00M341.5 108.5V107.00M351.5 108.5V106.00M361.5 108.5V107.00" stroke="#000" stroke-width="1" fill="none" shape-rendering="crispEdges"/>
<text x="45.2" y="109.15" text-anchor="end" font-family="Liberation Sans, Arial, Helvetica, sans-serif" font-weight="bold" font-size="8.7" fill="#000">1</text>
<text x="45.2" y="99.09" text-anchor="end" font-family="Liberation Sans, Arial, Helvetica, sans-serif" font-weight="bold" font-size="8.7" fill="#000">1.2</text>
<text x="45.2" y="89.03" text-anchor="end" font-family="Liberation Sans, Arial, Helvetica, sans-serif" font-weight="bold" font-size="8.7" fill="#000">1.4</text>
<text x="45.2" y="78.97" text-anchor="end" font-family="Liberation Sans, Arial, Helvetica, sans-serif" font-weight="bold" font-size="8.7" fill="#000">1.6</text>
<text x="45.2" y="68.91" text-anchor="end" font-family="Liberation Sans, Arial, Helvetica, sans-serif" font-weight="bold" font-size="8.7" fill="#000">1.8</text>
<text x="45.2" y="58.85" text-anchor="end" font-family="Liberation Sans, Arial, Helvetica, sans-serif" font-weight="bold" font-size="8.7" fill="#000">2</text>
<text x="45.2" y="48.79" text-anchor="end" font-family="Liberation Sans, Arial, Helvetica, sans-serif" font-weight="bold" font-size="8.7" fill="#000">2.2</text>
<text x="45.2" y="38.73" text-anchor="end" font-family="Liberation Sans, Arial, Helvetica, sans-serif" font-weight="bold" font-size="8.7" fill="#000">2.4</text>
<text x="45.2" y="28.67" text-anchor="end" font-family="Liberation Sans, Arial, Helvetica, sans-serif" font-weight="bold" font-size="8.7" fill="#000">2.6</text>
<text x="62.40" y="116.1" text-anchor="middle" font-family="Liberation Sans, Arial, Helvetica, sans-serif" font-weight="bold" font-size="8.7" fill="#000">300</text>
<text x="103.55" y="116.1" text-anchor="middle" font-family="Liberation Sans, Arial, Helvetica, sans-serif" font-weight="bold" font-size="8.7" fill="#000">320</text>
<text x="144.70" y="116.1" text-anchor="middle" font-family="Liberation Sans, Arial, Helvetica, sans-serif" font-weight="bold" font-size="8.7" fill="#000">340</text>
<text x="185.85" y="116.1" text-anchor="middle" font-family="Liberation Sans, Arial, Helvetica, sans-serif" font-weight="bold" font-size="8.7" fill="#000">360</text>
<text x="227.00" y="116.1" text-anchor="middle" font-family="Liberation Sans, Arial, Helvetica, sans-serif" font-weight="bold" font-size="8.7" fill="#000">380</text>
<text x="268.15" y="116.1" text-anchor="middle" font-family="Liberation Sans, Arial, Helvetica, sans-serif" font-weight="bold" font-size="8.7" fill="#000">400</text>
<text x="309.30" y="116.1" text-anchor="middle" font-family="Liberation Sans, Arial, Helvetica, sans-serif" font-weight="bold" font-size="8.7" fill="#000">420</text>
<text x="350.45" y="116.1" text-anchor="middle" font-family="Liberation Sans, Arial, Helvetica, sans-serif" font-weight="bold" font-size="8.7" fill="#000">440</text>
<polyline fill="none" stroke="#0000ff" stroke-width="1" shape-rendering="crispEdges" points="75.5,95.5 85.5,97.5 95.5,99.5 97.5,100.5 116.5,98.5 120.5,95.5 128.5,102.5 131.5,99.5 134.5,97.5 143.5,93.5 145.5,97.5 146.5,97.5 146.5,98.5 148.5,98.5 149.5,94.5 153.5,96.5 154.5,97.5 155.5,95.5 157.5,93.5 158.5,95.5 159.5,95.5 164.5,98.5 165.5,94.5 167.5,95.5 171.5,98.5 172.5,98.5 173.5,96.5 175.5,98.5 176.5,98.5 177.5,98.5 178.5,95.5 180.5,98.5 185.5,97.5 186.5,95.5 187.5,94.5 189.5,94.5 190.5,94.5 192.5,95.5 194.5,98.5 195.5,95.5 196.5,93.5 197.5,94.5 200.5,96.5 200.5,94.5 201.5,95.5 202.5,95.5 206.5,96.5 206.5,97.5 208.5,98.5 209.5,98.5 210.5,97.5 212.5,62.5 212.5,91.5 215.5,99.5 216.5,96.5 218.5,95.5 219.5,95.5 220.5,96.5 222.5,96.5 222.5,96.5 223.5,97.5 225.5,97.5 226.5,96.5 227.5,96.5 228.5,96.5 229.5,98.5 231.5,94.5 233.5,95.5 234.5,97.5 235.5,99.5 237.5,98.5 238.5,97.5 239.5,97.5 240.5,98.5 242.5,95.5 243.5,99.5 244.5,94.5 244.5,99.5 245.5,95.5 247.5,98.5 248.5,99.5 250.5,97.5 252.5,97.5 253.5,97.5 254.5,96.5 256.5,98.5 257.5,101.5 259.5,100.5 260.5,99.5 262.5,99.5 263.5,101.5 264.5,99.5 265.5,98.5 267.5,97.5 268.5,99.5 270.5,97.5 271.5,97.5 272.5,96.5 272.5,91.5 274.5,91.5 275.5,94.5 277.5,95.5 278.5,94.5 279.5,96.5 281.5,94.5 282.5,94.5 282.5,95.5 283.5,95.5 285.5,94.5 287.5,95.5 289.5,96.5 290.5,95.5 291.5,94.5 292.5,96.5 293.5,95.5 295.5,96.5 296.5,95.5 297.5,95.5 298.5,93.5 300.5,92.5 301.5,94.5 302.5,97.5 304.5,96.5 306.5,100.5 307.5,97.5 308.5,98.5 309.5,96.5 310.5,96.5 313.5,95.5 314.5,25.5 314.5,96.5 318.5,100.5 319.5,98.5 320.5,94.5 322.5,97.5 324.5,96.5 325.5,97.5 327.5,101.5 328.5,97.5 329.5,97.5 331.5,63.5 331.5,98.5 334.5,97.5 336.5,95.5 337.5,96.5 340.5,96.5 341.5,97.5 343.5,96.5"/>
<use href="#m" x="75.5" y="95.5"/><use href="#m" x="85.5" y="97.5"/><use href="#m" x="95.5" y="99.5"/><use href="#m" x="97.5" y="100.5"/><use href="#m" x="116.5" y="98.5"/><use href="#m" x="120.5" y="95.5"/><use href="#m" x="128.5" y="102.5"/><use href="#m" x="131.5" y="99.5"/><use href="#m" x="134.5" y="97.5"/><use href="#m" x="143.5" y="93.5"/><use href="#m" x="145.5" y="97.5"/><use href="#m" x="146.5" y="97.5"/><use href="#m" x="146.5" y="98.5"/><use href="#m" x="148.5" y="98.5"/><use href="#m" x="149.5" y="94.5"/><use href="#m" x="153.5" y="96.5"/><use href="#m" x="154.5" y="97.5"/><use href="#m" x="155.5" y="95.5"/><use href="#m" x="157.5" y="93.5"/><use href="#m" x="158.5" y="95.5"/><use href="#m" x="159.5" y="95.5"/><use href="#m" x="164.5" y="98.5"/><use href="#m" x="165.5" y="94.5"/><use href="#m" x="167.5" y="95.5"/><use href="#m" x="171.5" y="98.5"/><use href="#m" x="172.5" y="98.5"/><use href="#m" x="173.5" y="96.5"/><use href="#m" x="175.5" y="98.5"/><use href="#m" x="176.5" y="98.5"/><use href="#m" x="177.5" y="98.5"/><use href="#m" x="178.5" y="95.5"/><use href="#m" x="180.5" y="98.5"/><use href="#m" x="185.5" y="97.5"/><use href="#m" x="186.5" y="95.5"/><use href="#m" x="187.5" y="94.5"/><use href="#m" x="189.5" y="94.5"/><use href="#m" x="190.5" y="94.5"/><use href="#m" x="192.5" y="95.5"/><use href="#m" x="194.5" y="98.5"/><use href="#m" x="195.5" y="95.5"/><use href="#m" x="196.5" y="93.5"/><use href="#m" x="197.5" y="94.5"/><use href="#m" x="200.5" y="96.5"/><use href="#m" x="200.5" y="94.5"/><use href="#m" x="201.5" y="95.5"/><use href="#m" x="202.5" y="95.5"/><use href="#m" x="206.5" y="96.5"/><use href="#m" x="206.5" y="97.5"/><use href="#m" x="208.5" y="98.5"/><use href="#m" x="209.5" y="98.5"/><use href="#m" x="210.5" y="97.5"/><use href="#m" x="212.5" y="62.5"/><use href="#m" x="212.5" y="91.5"/><use href="#m" x="215.5" y="99.5"/><use href="#m" x="216.5" y="96.5"/><use href="#m" x="218.5" y="95.5"/><use href="#m" x="219.5" y="95.5"/><use href="#m" x="220.5" y="96.5"/><use href="#m" x="222.5" y="96.5"/><use href="#m" x="222.5" y="96.5"/><use href="#m" x="223.5" y="97.5"/><use href="#m" x="225.5" y="97.5"/><use href="#m" x="226.5" y="96.5"/><use href="#m" x="227.5" y="96.5"/><use href="#m" x="228.5" y="96.5"/><use href="#m" x="229.5" y="98.5"/><use href="#m" x="231.5" y="94.5"/><use href="#m" x="233.5" y="95.5"/><use href="#m" x="234.5" y="97.5"/><use href="#m" x="235.5" y="99.5"/><use href="#m" x="237.5" y="98.5"/><use href="#m" x="238.5" y="97.5"/><use href="#m" x="239.5" y="97.5"/><use href="#m" x="240.5" y="98.5"/><use href="#m" x="242.5" y="95.5"/><use href="#m" x="243.5" y="99.5"/><use href="#m" x="244.5" y="94.5"/><use href="#m" x="244.5" y="99.5"/><use href="#m" x="245.5" y="95.5"/><use href="#m" x="247.5" y="98.5"/><use href="#m" x="248.5" y="99.5"/><use href="#m" x="250.5" y="97.5"/><use href="#m" x="252.5" y="97.5"/><use href="#m" x="253.5" y="97.5"/><use href="#m" x="254.5" y="96.5"/><use href="#m" x="256.5" y="98.5"/><use href="#m" x="257.5" y="101.5"/><use href="#m" x="259.5" y="100.5"/><use href="#m" x="260.5" y="99.5"/><use href="#m" x="262.5" y="99.5"/><use href="#m" x="263.5" y="101.5"/><use href="#m" x="264.5" y="99.5"/><use href="#m" x="265.5" y="98.5"/><use href="#m" x="267.5" y="97.5"/><use href="#m" x="268.5" y="99.5"/><use href="#m" x="270.5" y="97.5"/><use href="#m" x="271.5" y="97.5"/><use href="#m" x="272.5" y="96.5"/><use href="#m" x="272.5" y="91.5"/><use href="#m" x="274.5" y="91.5"/><use href="#m" x="275.5" y="94.5"/><use href="#m" x="277.5" y="95.5"/><use href="#m" x="278.5" y="94.5"/><use href="#m" x="279.5" y="96.5"/><use href="#m" x="281.5" y="94.5"/><use href="#m" x="282.5" y="94.5"/><use href="#m" x="282.5" y="95.5"/><use href="#m" x="283.5" y="95.5"/><use href="#m" x="285.5" y="94.5"/><use href="#m" x="287.5" y="95.5"/><use href="#m" x="289.5" y="96.5"/><use href="#m" x="290.5" y="95.5"/><use href="#m" x="291.5" y="94.5"/><use href="#m" x="292.5" y="96.5"/><use href="#m" x="293.5" y="95.5"/><use href="#m" x="295.5" y="96.5"/><use href="#m" x="296.5" y="95.5"/><use href="#m" x="297.5" y="95.5"/><use href="#m" x="298.5" y="93.5"/><use href="#m" x="300.5" y="92.5"/><use href="#m" x="301.5" y="94.5"/><use href="#m" x="302.5" y="97.5"/><use href="#m" x="304.5" y="96.5"/><use href="#m" x="306.5" y="100.5"/><use href="#m" x="307.5" y="97.5"/><use href="#m" x="308.5" y="98.5"/><use href="#m" x="309.5" y="96.5"/><use href="#m" x="310.5" y="96.5"/><use href="#m" x="313.5" y="95.5"/><use href="#m" x="314.5" y="25.5"/><use href="#m" x="314.5" y="96.5"/><use href="#m" x="318.5" y="100.5"/><use href="#m" x="319.5" y="98.5"/><use href="#m" x="320.5" y="94.5"/><use href="#m" x="322.5" y="97.5"/><use href="#m" x="324.5" y="96.5"/><use href="#m" x="325.5" y="97.5"/><use href="#m" x="327.5" y="101.5"/><use href="#m" x="328.5" y="97.5"/><use href="#m" x="329.5" y="97.5"/><use href="#m" x="331.5" y="63.5"/><use href="#m" x="331.5" y="98.5"/><use href="#m" x="334.5" y="97.5"/><use href="#m" x="336.5" y="95.5"/><use href="#m" x="337.5" y="96.5"/><use href="#m" x="340.5" y="96.5"/><use href="#m" x="341.5" y="97.5"/><use href="#m" x="343.5" y="96.5"/>
<rect x="12.5" y="6.5" width="322.00" height="12.00" fill="#fff" stroke="#000" stroke-width="1" shape-rendering="crispEdges"/>
<text x="171.8" y="14.6" text-anchor="middle" font-family="Liberation Sans, Arial, Helvetica, sans-serif" font-weight="bold" font-size="9" fill="#000">South Sta-3 Oct-6 RMS vrs Day (Packet 11149)</text>
</g>
<g transform="translate(420,254)">
<rect x="48.5" y="17.5" width="322.00" height="91.00" fill="#fff" stroke="#000" stroke-width="1" shape-rendering="crispEdges"/>
<path d="M48.5 105.5H54M48.5 102.5H54M48.5 98.5H54M48.5 95.5H54M48.5 92.5H58M48.5 89.5H54M48.5 86.5H54M48.5 82.5H54M48.5 79.5H54M48.5 76.5H58M48.5 73.5H54M48.5 70.5H54M48.5 66.5H54M48.5 63.5H54M48.5 60.5H58M48.5 57.5H54M48.5 54.5H54M48.5 50.5H54M48.5 47.5H54M48.5 44.5H58M48.5 41.5H54M48.5 38.5H54M48.5 34.5H54M48.5 31.5H54M48.5 28.5H58M48.5 25.5H54M48.5 22.5H54M48.5 18.5H54M54.5 108.5V107.00M64.5 108.5V106.00M74.5 108.5V107.00M85.5 108.5V107.00M95.5 108.5V107.00M105.5 108.5V106.00M115.5 108.5V107.00M126.5 108.5V107.00M136.5 108.5V107.00M146.5 108.5V106.00M156.5 108.5V107.00M167.5 108.5V107.00M177.5 108.5V107.00M187.5 108.5V106.00M197.5 108.5V107.00M208.5 108.5V107.00M218.5 108.5V107.00M228.5 108.5V106.00M238.5 108.5V107.00M248.5 108.5V107.00M259.5 108.5V107.00M269.5 108.5V106.00M279.5 108.5V107.00M290.5 108.5V107.00M300.5 108.5V107.00M310.5 108.5V106.00M320.5 108.5V107.00M331.5 108.5V107.00M341.5 108.5V107.00M351.5 108.5V106.00M361.5 108.5V107.00" stroke="#000" stroke-width="1" fill="none" shape-rendering="crispEdges"/>
<text x="45.2" y="111.45" text-anchor="end" font-family="Liberation Sans, Arial, Helvetica, sans-serif" font-weight="bold" font-size="8.7" fill="#000">0</text>
<text x="45.2" y="95.41" text-anchor="end" font-family="Liberation Sans, Arial, Helvetica, sans-serif" font-weight="bold" font-size="8.7" fill="#000">5</text>
<text x="45.2" y="79.38" text-anchor="end" font-family="Liberation Sans, Arial, Helvetica, sans-serif" font-weight="bold" font-size="8.7" fill="#000">10</text>
<text x="45.2" y="63.34" text-anchor="end" font-family="Liberation Sans, Arial, Helvetica, sans-serif" font-weight="bold" font-size="8.7" fill="#000">15</text>
<text x="45.2" y="47.31" text-anchor="end" font-family="Liberation Sans, Arial, Helvetica, sans-serif" font-weight="bold" font-size="8.7" fill="#000">20</text>
<text x="45.2" y="31.27" text-anchor="end" font-family="Liberation Sans, Arial, Helvetica, sans-serif" font-weight="bold" font-size="8.7" fill="#000">25</text>
<text x="62.40" y="116.1" text-anchor="middle" font-family="Liberation Sans, Arial, Helvetica, sans-serif" font-weight="bold" font-size="8.7" fill="#000">300</text>
<text x="103.55" y="116.1" text-anchor="middle" font-family="Liberation Sans, Arial, Helvetica, sans-serif" font-weight="bold" font-size="8.7" fill="#000">320</text>
<text x="144.70" y="116.1" text-anchor="middle" font-family="Liberation Sans, Arial, Helvetica, sans-serif" font-weight="bold" font-size="8.7" fill="#000">340</text>
<text x="185.85" y="116.1" text-anchor="middle" font-family="Liberation Sans, Arial, Helvetica, sans-serif" font-weight="bold" font-size="8.7" fill="#000">360</text>
<text x="227.00" y="116.1" text-anchor="middle" font-family="Liberation Sans, Arial, Helvetica, sans-serif" font-weight="bold" font-size="8.7" fill="#000">380</text>
<text x="268.15" y="116.1" text-anchor="middle" font-family="Liberation Sans, Arial, Helvetica, sans-serif" font-weight="bold" font-size="8.7" fill="#000">400</text>
<text x="309.30" y="116.1" text-anchor="middle" font-family="Liberation Sans, Arial, Helvetica, sans-serif" font-weight="bold" font-size="8.7" fill="#000">420</text>
<text x="350.45" y="116.1" text-anchor="middle" font-family="Liberation Sans, Arial, Helvetica, sans-serif" font-weight="bold" font-size="8.7" fill="#000">440</text>
<polyline fill="none" stroke="#0000ff" stroke-width="1" shape-rendering="crispEdges" points="75.5,103.5 85.5,103.5 95.5,103.5 97.5,103.5 116.5,103.5 120.5,103.5 128.5,103.5 131.5,103.5 134.5,103.5 143.5,103.5 145.5,103.5 146.5,103.5 146.5,103.5 148.5,103.5 149.5,103.5 153.5,103.5 154.5,103.5 155.5,103.5 157.5,103.5 158.5,103.5 159.5,103.5 164.5,103.5 165.5,103.5 167.5,103.5 171.5,103.5 172.5,103.5 173.5,103.5 175.5,103.5 176.5,103.5 177.5,103.5 178.5,103.5 180.5,103.5 185.5,103.5 186.5,103.5 187.5,103.5 189.5,103.5 190.5,103.5 192.5,103.5 194.5,103.5 195.5,103.5 196.5,103.5 197.5,103.5 200.5,103.5 200.5,103.5 201.5,103.5 202.5,103.5 206.5,103.5 206.5,98.5 208.5,103.5 209.5,103.5 210.5,103.5 212.5,83.5 212.5,103.5 215.5,103.5 216.5,103.5 218.5,103.5 219.5,103.5 220.5,103.5 222.5,103.5 222.5,103.5 223.5,103.5 225.5,103.5 226.5,103.5 227.5,103.5 228.5,103.5 229.5,103.5 231.5,103.5 233.5,103.5 234.5,103.5 235.5,103.5 237.5,103.5 238.5,103.5 239.5,103.5 240.5,103.5 242.5,103.5 243.5,103.5 244.5,103.5 244.5,103.5 245.5,103.5 247.5,103.5 248.5,103.5 250.5,103.5 252.5,103.5 253.5,103.5 254.5,103.5 256.5,103.5 257.5,103.5 259.5,103.5 260.5,103.5 262.5,103.5 263.5,103.5 264.5,103.5 265.5,103.5 267.5,103.5 268.5,103.5 270.5,103.5 271.5,103.5 272.5,103.5 272.5,103.5 274.5,103.5 275.5,103.5 277.5,103.5 278.5,103.5 279.5,103.5 281.5,103.5 282.5,103.5 282.5,103.5 283.5,103.5 285.5,103.5 287.5,103.5 289.5,103.5 290.5,103.5 291.5,103.5 292.5,103.5 293.5,103.5 295.5,103.5 296.5,103.5 297.5,103.5 298.5,103.5 300.5,103.5 301.5,103.5 302.5,103.5 304.5,103.5 306.5,103.5 307.5,103.5 308.5,103.5 309.5,103.5 310.5,103.5 313.5,103.5 314.5,75.5 314.5,103.5 318.5,103.5 319.5,103.5 320.5,103.5 322.5,103.5 324.5,103.5 325.5,103.5 327.5,103.5 328.5,103.5 329.5,103.5 331.5,25.5 331.5,103.5 334.5,103.5 336.5,103.5 337.5,103.5 340.5,103.5 341.5,103.5 343.5,103.5"/>
<use href="#m" x="75.5" y="103.5"/><use href="#m" x="85.5" y="103.5"/><use href="#m" x="95.5" y="103.5"/><use href="#m" x="97.5" y="103.5"/><use href="#m" x="116.5" y="103.5"/><use href="#m" x="120.5" y="103.5"/><use href="#m" x="128.5" y="103.5"/><use href="#m" x="131.5" y="103.5"/><use href="#m" x="134.5" y="103.5"/><use href="#m" x="143.5" y="103.5"/><use href="#m" x="145.5" y="103.5"/><use href="#m" x="146.5" y="103.5"/><use href="#m" x="146.5" y="103.5"/><use href="#m" x="148.5" y="103.5"/><use href="#m" x="149.5" y="103.5"/><use href="#m" x="153.5" y="103.5"/><use href="#m" x="154.5" y="103.5"/><use href="#m" x="155.5" y="103.5"/><use href="#m" x="157.5" y="103.5"/><use href="#m" x="158.5" y="103.5"/><use href="#m" x="159.5" y="103.5"/><use href="#m" x="164.5" y="103.5"/><use href="#m" x="165.5" y="103.5"/><use href="#m" x="167.5" y="103.5"/><use href="#m" x="171.5" y="103.5"/><use href="#m" x="172.5" y="103.5"/><use href="#m" x="173.5" y="103.5"/><use href="#m" x="175.5" y="103.5"/><use href="#m" x="176.5" y="103.5"/><use href="#m" x="177.5" y="103.5"/><use href="#m" x="178.5" y="103.5"/><use href="#m" x="180.5" y="103.5"/><use href="#m" x="185.5" y="103.5"/><use href="#m" x="186.5" y="103.5"/><use href="#m" x="187.5" y="103.5"/><use href="#m" x="189.5" y="103.5"/><use href="#m" x="190.5" y="103.5"/><use href="#m" x="192.5" y="103.5"/><use href="#m" x="194.5" y="103.5"/><use href="#m" x="195.5" y="103.5"/><use href="#m" x="196.5" y="103.5"/><use href="#m" x="197.5" y="103.5"/><use href="#m" x="200.5" y="103.5"/><use href="#m" x="200.5" y="103.5"/><use href="#m" x="201.5" y="103.5"/><use href="#m" x="202.5" y="103.5"/><use href="#m" x="206.5" y="103.5"/><use href="#m" x="206.5" y="98.5"/><use href="#m" x="208.5" y="103.5"/><use href="#m" x="209.5" y="103.5"/><use href="#m" x="210.5" y="103.5"/><use href="#m" x="212.5" y="83.5"/><use href="#m" x="212.5" y="103.5"/><use href="#m" x="215.5" y="103.5"/><use href="#m" x="216.5" y="103.5"/><use href="#m" x="218.5" y="103.5"/><use href="#m" x="219.5" y="103.5"/><use href="#m" x="220.5" y="103.5"/><use href="#m" x="222.5" y="103.5"/><use href="#m" x="222.5" y="103.5"/><use href="#m" x="223.5" y="103.5"/><use href="#m" x="225.5" y="103.5"/><use href="#m" x="226.5" y="103.5"/><use href="#m" x="227.5" y="103.5"/><use href="#m" x="228.5" y="103.5"/><use href="#m" x="229.5" y="103.5"/><use href="#m" x="231.5" y="103.5"/><use href="#m" x="233.5" y="103.5"/><use href="#m" x="234.5" y="103.5"/><use href="#m" x="235.5" y="103.5"/><use href="#m" x="237.5" y="103.5"/><use href="#m" x="238.5" y="103.5"/><use href="#m" x="239.5" y="103.5"/><use href="#m" x="240.5" y="103.5"/><use href="#m" x="242.5" y="103.5"/><use href="#m" x="243.5" y="103.5"/><use href="#m" x="244.5" y="103.5"/><use href="#m" x="244.5" y="103.5"/><use href="#m" x="245.5" y="103.5"/><use href="#m" x="247.5" y="103.5"/><use href="#m" x="248.5" y="103.5"/><use href="#m" x="250.5" y="103.5"/><use href="#m" x="252.5" y="103.5"/><use href="#m" x="253.5" y="103.5"/><use href="#m" x="254.5" y="103.5"/><use href="#m" x="256.5" y="103.5"/><use href="#m" x="257.5" y="103.5"/><use href="#m" x="259.5" y="103.5"/><use href="#m" x="260.5" y="103.5"/><use href="#m" x="262.5" y="103.5"/><use href="#m" x="263.5" y="103.5"/><use href="#m" x="264.5" y="103.5"/><use href="#m" x="265.5" y="103.5"/><use href="#m" x="267.5" y="103.5"/><use href="#m" x="268.5" y="103.5"/><use href="#m" x="270.5" y="103.5"/><use href="#m" x="271.5" y="103.5"/><use href="#m" x="272.5" y="103.5"/><use href="#m" x="272.5" y="103.5"/><use href="#m" x="274.5" y="103.5"/><use href="#m" x="275.5" y="103.5"/><use href="#m" x="277.5" y="103.5"/><use href="#m" x="278.5" y="103.5"/><use href="#m" x="279.5" y="103.5"/><use href="#m" x="281.5" y="103.5"/><use href="#m" x="282.5" y="103.5"/><use href="#m" x="282.5" y="103.5"/><use href="#m" x="283.5" y="103.5"/><use href="#m" x="285.5" y="103.5"/><use href="#m" x="287.5" y="103.5"/><use href="#m" x="289.5" y="103.5"/><use href="#m" x="290.5" y="103.5"/><use href="#m" x="291.5" y="103.5"/><use href="#m" x="292.5" y="103.5"/><use href="#m" x="293.5" y="103.5"/><use href="#m" x="295.5" y="103.5"/><use href="#m" x="296.5" y="103.5"/><use href="#m" x="297.5" y="103.5"/><use href="#m" x="298.5" y="103.5"/><use href="#m" x="300.5" y="103.5"/><use href="#m" x="301.5" y="103.5"/><use href="#m" x="302.5" y="103.5"/><use href="#m" x="304.5" y="103.5"/><use href="#m" x="306.5" y="103.5"/><use href="#m" x="307.5" y="103.5"/><use href="#m" x="308.5" y="103.5"/><use href="#m" x="309.5" y="103.5"/><use href="#m" x="310.5" y="103.5"/><use href="#m" x="313.5" y="103.5"/><use href="#m" x="314.5" y="75.5"/><use href="#m" x="314.5" y="103.5"/><use href="#m" x="318.5" y="103.5"/><use href="#m" x="319.5" y="103.5"/><use href="#m" x="320.5" y="103.5"/><use href="#m" x="322.5" y="103.5"/><use href="#m" x="324.5" y="103.5"/><use href="#m" x="325.5" y="103.5"/><use href="#m" x="327.5" y="103.5"/><use href="#m" x="328.5" y="103.5"/><use href="#m" x="329.5" y="103.5"/><use href="#m" x="331.5" y="25.5"/><use href="#m" x="331.5" y="103.5"/><use href="#m" x="334.5" y="103.5"/><use href="#m" x="336.5" y="103.5"/><use href="#m" x="337.5" y="103.5"/><use href="#m" x="340.5" y="103.5"/><use href="#m" x="341.5" y="103.5"/><use href="#m" x="343.5" y="103.5"/>
<rect x="12.5" y="6.5" width="322.00" height="12.00" fill="#fff" stroke="#000" stroke-width="1" shape-rendering="crispEdges"/>
<text x="171.8" y="14.6" text-anchor="middle" font-family="Liberation Sans, Arial, Helvetica, sans-serif" font-weight="bold" font-size="9" fill="#000">South Sta-3 Oct-6 RMS vrs Day (Packet 11150)</text>
</g>
<g transform="translate(0,381)">
<rect x="48.5" y="17.5" width="322.00" height="91.00" fill="#fff" stroke="#000" stroke-width="1" shape-rendering="crispEdges"/>
<path d="M48.5 105.5H54M48.5 102.5H54M48.5 99.5H54M48.5 96.5H58M48.5 92.5H54M48.5 89.5H54M48.5 86.5H54M48.5 83.5H58M48.5 79.5H54M48.5 76.5H54M48.5 73.5H54M48.5 70.5H58M48.5 67.5H54M48.5 63.5H54M48.5 60.5H54M48.5 57.5H58M48.5 54.5H54M48.5 50.5H54M48.5 47.5H54M48.5 44.5H58M48.5 41.5H54M48.5 37.5H54M48.5 34.5H54M48.5 31.5H58M48.5 28.5H54M48.5 25.5H54M48.5 21.5H54M48.5 18.5H58M54.5 108.5V107.00M64.5 108.5V106.00M74.5 108.5V107.00M85.5 108.5V107.00M95.5 108.5V107.00M105.5 108.5V106.00M115.5 108.5V107.00M126.5 108.5V107.00M136.5 108.5V107.00M146.5 108.5V106.00M156.5 108.5V107.00M167.5 108.5V107.00M177.5 108.5V107.00M187.5 108.5V106.00M197.5 108.5V107.00M208.5 108.5V107.00M218.5 108.5V107.00M228.5 108.5V106.00M238.5 108.5V107.00M248.5 108.5V107.00M259.5 108.5V107.00M269.5 108.5V106.00M279.5 108.5V107.00M290.5 108.5V107.00M300.5 108.5V107.00M310.5 108.5V106.00M320.5 108.5V107.00M331.5 108.5V107.00M341.5 108.5V107.00M351.5 108.5V106.00M361.5 108.5V107.00" stroke="#000" stroke-width="1" fill="none" shape-rendering="crispEdges"/>
<text x="45.2" y="98.95" text-anchor="end" font-family="Liberation Sans, Arial, Helvetica, sans-serif" font-weight="bold" font-size="8.7" fill="#000">2</text>
<text x="45.2" y="86.03" text-anchor="end" font-family="Liberation Sans, Arial, Helvetica, sans-serif" font-weight="bold" font-size="8.7" fill="#000">4</text>
<text x="45.2" y="73.11" text-anchor="end" font-family="Liberation Sans, Arial, Helvetica, sans-serif" font-weight="bold" font-size="8.7" fill="#000">6</text>
<text x="45.2" y="60.19" text-anchor="end" font-family="Liberation Sans, Arial, Helvetica, sans-serif" font-weight="bold" font-size="8.7" fill="#000">8</text>
<text x="45.2" y="47.27" text-anchor="end" font-family="Liberation Sans, Arial, Helvetica, sans-serif" font-weight="bold" font-size="8.7" fill="#000">10</text>
<text x="45.2" y="34.35" text-anchor="end" font-family="Liberation Sans, Arial, Helvetica, sans-serif" font-weight="bold" font-size="8.7" fill="#000">12</text>
<text x="45.2" y="21.43" text-anchor="end" font-family="Liberation Sans, Arial, Helvetica, sans-serif" font-weight="bold" font-size="8.7" fill="#000">14</text>
<text x="62.40" y="116.1" text-anchor="middle" font-family="Liberation Sans, Arial, Helvetica, sans-serif" font-weight="bold" font-size="8.7" fill="#000">300</text>
<text x="103.55" y="116.1" text-anchor="middle" font-family="Liberation Sans, Arial, Helvetica, sans-serif" font-weight="bold" font-size="8.7" fill="#000">320</text>
<text x="144.70" y="116.1" text-anchor="middle" font-family="Liberation Sans, Arial, Helvetica, sans-serif" font-weight="bold" font-size="8.7" fill="#000">340</text>
<text x="185.85" y="116.1" text-anchor="middle" font-family="Liberation Sans, Arial, Helvetica, sans-serif" font-weight="bold" font-size="8.7" fill="#000">360</text>
<text x="227.00" y="116.1" text-anchor="middle" font-family="Liberation Sans, Arial, Helvetica, sans-serif" font-weight="bold" font-size="8.7" fill="#000">380</text>
<text x="268.15" y="116.1" text-anchor="middle" font-family="Liberation Sans, Arial, Helvetica, sans-serif" font-weight="bold" font-size="8.7" fill="#000">400</text>
<text x="309.30" y="116.1" text-anchor="middle" font-family="Liberation Sans, Arial, Helvetica, sans-serif" font-weight="bold" font-size="8.7" fill="#000">420</text>
<text x="350.45" y="116.1" text-anchor="middle" font-family="Liberation Sans, Arial, Helvetica, sans-serif" font-weight="bold" font-size="8.7" fill="#000">440</text>
<polyline fill="none" stroke="#0000ff" stroke-width="1" shape-rendering="crispEdges" points="75.5,99.5 85.5,99.5 95.5,99.5 97.5,99.5 116.5,99.5 120.5,99.5 128.5,99.5 131.5,99.5 134.5,99.5 143.5,99.5 145.5,100.5 146.5,98.5 146.5,99.5 148.5,99.5 149.5,99.5 153.5,98.5 154.5,99.5 155.5,98.5 157.5,98.5 158.5,99.5 159.5,98.5 164.5,99.5 165.5,99.5 167.5,99.5 171.5,99.5 172.5,99.5 173.5,99.5 175.5,99.5 176.5,98.5 177.5,98.5 178.5,99.5 180.5,99.5 185.5,99.5 186.5,99.5 187.5,98.5 189.5,98.5 190.5,99.5 192.5,98.5 194.5,98.5 195.5,99.5 196.5,98.5 197.5,98.5 200.5,98.5 200.5,98.5 201.5,98.5 202.5,98.5 206.5,98.5 206.5,76.5 208.5,98.5 209.5,98.5 210.5,98.5 212.5,91.5 212.5,99.5 215.5,98.5 216.5,98.5 218.5,98.5 219.5,98.5 220.5,98.5 222.5,99.5 222.5,98.5 223.5,99.5 225.5,99.5 226.5,99.5 227.5,99.5 228.5,99.5 229.5,99.5 231.5,99.5 233.5,99.5 234.5,99.5 235.5,99.5 237.5,99.5 238.5,99.5 239.5,99.5 240.5,99.5 242.5,99.5 243.5,98.5 244.5,98.5 244.5,99.5 245.5,99.5 247.5,99.5 248.5,99.5 250.5,99.5 252.5,99.5 253.5,98.5 254.5,99.5 256.5,98.5 257.5,98.5 259.5,99.5 260.5,98.5 262.5,99.5 263.5,99.5 264.5,99.5 265.5,99.5 267.5,98.5 268.5,99.5 270.5,98.5 271.5,97.5 272.5,98.5 272.5,97.5 274.5,98.5 275.5,98.5 277.5,98.5 278.5,98.5 279.5,98.5 281.5,99.5 282.5,99.5 282.5,98.5 283.5,99.5 285.5,99.5 287.5,98.5 289.5,98.5 290.5,99.5 291.5,99.5 292.5,98.5 293.5,99.5 295.5,99.5 296.5,100.5 297.5,98.5 298.5,99.5 300.5,99.5 301.5,99.5 302.5,98.5 304.5,98.5 306.5,99.5 307.5,99.5 308.5,99.5 309.5,99.5 310.5,99.5 313.5,98.5 314.5,72.5 314.5,99.5 318.5,99.5 319.5,99.5 320.5,99.5 322.5,99.5 324.5,98.5 325.5,98.5 327.5,99.5 328.5,98.5 329.5,98.5 331.5,25.5 331.5,99.5 334.5,98.5 336.5,99.5 337.5,99.5 340.5,99.5 341.5,99.5 343.5,98.5"/>
<use href="#m" x="75.5" y="99.5"/><use href="#m" x="85.5" y="99.5"/><use href="#m" x="95.5" y="99.5"/><use href="#m" x="97.5" y="99.5"/><use href="#m" x="116.5" y="99.5"/><use href="#m" x="120.5" y="99.5"/><use href="#m" x="128.5" y="99.5"/><use href="#m" x="131.5" y="99.5"/><use href="#m" x="134.5" y="99.5"/><use href="#m" x="143.5" y="99.5"/><use href="#m" x="145.5" y="100.5"/><use href="#m" x="146.5" y="98.5"/><use href="#m" x="146.5" y="99.5"/><use href="#m" x="148.5" y="99.5"/><use href="#m" x="149.5" y="99.5"/><use href="#m" x="153.5" y="98.5"/><use href="#m" x="154.5" y="99.5"/><use href="#m" x="155.5" y="98.5"/><use href="#m" x="157.5" y="98.5"/><use href="#m" x="158.5" y="99.5"/><use href="#m" x="159.5" y="98.5"/><use href="#m" x="164.5" y="99.5"/><use href="#m" x="165.5" y="99.5"/><use href="#m" x="167.5" y="99.5"/><use href="#m" x="171.5" y="99.5"/><use href="#m" x="172.5" y="99.5"/><use href="#m" x="173.5" y="99.5"/><use href="#m" x="175.5" y="99.5"/><use href="#m" x="176.5" y="98.5"/><use href="#m" x="177.5" y="98.5"/><use href="#m" x="178.5" y="99.5"/><use href="#m" x="180.5" y="99.5"/><use href="#m" x="185.5" y="99.5"/><use href="#m" x="186.5" y="99.5"/><use href="#m" x="187.5" y="98.5"/><use href="#m" x="189.5" y="98.5"/><use href="#m" x="190.5" y="99.5"/><use href="#m" x="192.5" y="98.5"/><use href="#m" x="194.5" y="98.5"/><use href="#m" x="195.5" y="99.5"/><use href="#m" x="196.5" y="98.5"/><use href="#m" x="197.5" y="98.5"/><use href="#m" x="200.5" y="98.5"/><use href="#m" x="200.5" y="98.5"/><use href="#m" x="201.5" y="98.5"/><use href="#m" x="202.5" y="98.5"/><use href="#m" x="206.5" y="98.5"/><use href="#m" x="206.5" y="76.5"/><use href="#m" x="208.5" y="98.5"/><use href="#m" x="209.5" y="98.5"/><use href="#m" x="210.5" y="98.5"/><use href="#m" x="212.5" y="91.5"/><use href="#m" x="212.5" y="99.5"/><use href="#m" x="215.5" y="98.5"/><use href="#m" x="216.5" y="98.5"/><use href="#m" x="218.5" y="98.5"/><use href="#m" x="219.5" y="98.5"/><use href="#m" x="220.5" y="98.5"/><use href="#m" x="222.5" y="99.5"/><use href="#m" x="222.5" y="98.5"/><use href="#m" x="223.5" y="99.5"/><use href="#m" x="225.5" y="99.5"/><use href="#m" x="226.5" y="99.5"/><use href="#m" x="227.5" y="99.5"/><use href="#m" x="228.5" y="99.5"/><use href="#m" x="229.5" y="99.5"/><use href="#m" x="231.5" y="99.5"/><use href="#m" x="233.5" y="99.5"/><use href="#m" x="234.5" y="99.5"/><use href="#m" x="235.5" y="99.5"/><use href="#m" x="237.5" y="99.5"/><use href="#m" x="238.5" y="99.5"/><use href="#m" x="239.5" y="99.5"/><use href="#m" x="240.5" y="99.5"/><use href="#m" x="242.5" y="99.5"/><use href="#m" x="243.5" y="98.5"/><use href="#m" x="244.5" y="98.5"/><use href="#m" x="244.5" y="99.5"/><use href="#m" x="245.5" y="99.5"/><use href="#m" x="247.5" y="99.5"/><use href="#m" x="248.5" y="99.5"/><use href="#m" x="250.5" y="99.5"/><use href="#m" x="252.5" y="99.5"/><use href="#m" x="253.5" y="98.5"/><use href="#m" x="254.5" y="99.5"/><use href="#m" x="256.5" y="98.5"/><use href="#m" x="257.5" y="98.5"/><use href="#m" x="259.5" y="99.5"/><use href="#m" x="260.5" y="98.5"/><use href="#m" x="262.5" y="99.5"/><use href="#m" x="263.5" y="99.5"/><use href="#m" x="264.5" y="99.5"/><use href="#m" x="265.5" y="99.5"/><use href="#m" x="267.5" y="98.5"/><use href="#m" x="268.5" y="99.5"/><use href="#m" x="270.5" y="98.5"/><use href="#m" x="271.5" y="97.5"/><use href="#m" x="272.5" y="98.5"/><use href="#m" x="272.5" y="97.5"/><use href="#m" x="274.5" y="98.5"/><use href="#m" x="275.5" y="98.5"/><use href="#m" x="277.5" y="98.5"/><use href="#m" x="278.5" y="98.5"/><use href="#m" x="279.5" y="98.5"/><use href="#m" x="281.5" y="99.5"/><use href="#m" x="282.5" y="99.5"/><use href="#m" x="282.5" y="98.5"/><use href="#m" x="283.5" y="99.5"/><use href="#m" x="285.5" y="99.5"/><use href="#m" x="287.5" y="98.5"/><use href="#m" x="289.5" y="98.5"/><use href="#m" x="290.5" y="99.5"/><use href="#m" x="291.5" y="99.5"/><use href="#m" x="292.5" y="98.5"/><use href="#m" x="293.5" y="99.5"/><use href="#m" x="295.5" y="99.5"/><use href="#m" x="296.5" y="100.5"/><use href="#m" x="297.5" y="98.5"/><use href="#m" x="298.5" y="99.5"/><use href="#m" x="300.5" y="99.5"/><use href="#m" x="301.5" y="99.5"/><use href="#m" x="302.5" y="98.5"/><use href="#m" x="304.5" y="98.5"/><use href="#m" x="306.5" y="99.5"/><use href="#m" x="307.5" y="99.5"/><use href="#m" x="308.5" y="99.5"/><use href="#m" x="309.5" y="99.5"/><use href="#m" x="310.5" y="99.5"/><use href="#m" x="313.5" y="98.5"/><use href="#m" x="314.5" y="72.5"/><use href="#m" x="314.5" y="99.5"/><use href="#m" x="318.5" y="99.5"/><use href="#m" x="319.5" y="99.5"/><use href="#m" x="320.5" y="99.5"/><use href="#m" x="322.5" y="99.5"/><use href="#m" x="324.5" y="98.5"/><use href="#m" x="325.5" y="98.5"/><use href="#m" x="327.5" y="99.5"/><use href="#m" x="328.5" y="98.5"/><use href="#m" x="329.5" y="98.5"/><use href="#m" x="331.5" y="25.5"/><use href="#m" x="331.5" y="99.5"/><use href="#m" x="334.5" y="98.5"/><use href="#m" x="336.5" y="99.5"/><use href="#m" x="337.5" y="99.5"/><use href="#m" x="340.5" y="99.5"/><use href="#m" x="341.5" y="99.5"/><use href="#m" x="343.5" y="98.5"/>
<rect x="12.5" y="6.5" width="322.00" height="12.00" fill="#fff" stroke="#000" stroke-width="1" shape-rendering="crispEdges"/>
<text x="171.8" y="14.6" text-anchor="middle" font-family="Liberation Sans, Arial, Helvetica, sans-serif" font-weight="bold" font-size="9" fill="#000">South Sta-3 Oct-6 RMS vrs Day (Packet 11151)</text>
</g>
<g transform="translate(420,381)">
<rect x="48.5" y="17.5" width="322.00" height="91.00" fill="#fff" stroke="#000" stroke-width="1" shape-rendering="crispEdges"/>
<path d="M48.5 106.5H54M48.5 105.5H54M48.5 103.5H54M48.5 101.5H58M48.5 99.5H54M48.5 97.5H54M48.5 95.5H54M48.5 93.5H58M48.5 91.5H54M48.5 89.5H54M48.5 87.5H54M48.5 85.5H58M48.5 83.5H54M48.5 82.5H54M48.5 80.5H54M48.5 78.5H58M48.5 76.5H54M48.5 74.5H54M48.5 72.5H54M48.5 70.5H58M48.5 68.5H54M48.5 66.5H54M48.5 64.5H54M48.5 62.5H58M48.5 60.5H54M48.5 58.5H54M48.5 57.5H54M48.5 55.5H58M48.5 53.5H54M48.5 51.5H54M48.5 49.5H54M48.5 47.5H58M48.5 45.5H54M48.5 43.5H54M48.5 41.5H54M48.5 39.5H58M48.5 37.5H54M48.5 35.5H54M48.5 34.5H54M48.5 32.5H58M48.5 30.5H54M48.5 28.5H54M48.5 26.5H54M48.5 24.5H58M48.5 22.5H54M48.5 20.5H54M48.5 18.5H54M54.5 108.5V107.00M64.5 108.5V106.00M74.5 108.5V107.00M85.5 108.5V107.00M95.5 108.5V107.00M105.5 108.5V106.00M115.5 108.5V107.00M126.5 108.5V107.00M136.5 108.5V107.00M146.5 108.5V106.00M156.5 108.5V107.00M167.5 108.5V107.00M177.5 108.5V107.00M187.5 108.5V106.00M197.5 108.5V107.00M208.5 108.5V107.00M218.5 108.5V107.00M228.5 108.5V106.00M238.5 108.5V107.00M248.5 108.5V107.00M259.5 108.5V107.00M269.5 108.5V106.00M279.5 108.5V107.00M290.5 108.5V107.00M300.5 108.5V107.00M310.5 108.5V106.00M320.5 108.5V107.00M331.5 108.5V107.00M341.5 108.5V107.00M351.5 108.5V106.00M361.5 108.5V107.00" stroke="#000" stroke-width="1" fill="none" shape-rendering="crispEdges"/>
<text x="45.2" y="111.75" text-anchor="end" font-family="Liberation Sans, Arial, Helvetica, sans-serif" font-weight="bold" font-size="8.7" fill="#000">0</text>
<text x="45.2" y="104.07" text-anchor="end" font-family="Liberation Sans, Arial, Helvetica, sans-serif" font-weight="bold" font-size="8.7" fill="#000">2</text>
<text x="45.2" y="96.39" text-anchor="end" font-family="Liberation Sans, Arial, Helvetica, sans-serif" font-weight="bold" font-size="8.7" fill="#000">4</text>
<text x="45.2" y="88.71" text-anchor="end" font-family="Liberation Sans, Arial, Helvetica, sans-serif" font-weight="bold" font-size="8.7" fill="#000">6</text>
<text x="45.2" y="81.03" text-anchor="end" font-family="Liberation Sans, Arial, Helvetica, sans-serif" font-weight="bold" font-size="8.7" fill="#000">8</text>
<text x="45.2" y="73.35" text-anchor="end" font-family="Liberation Sans, Arial, Helvetica, sans-serif" font-weight="bold" font-size="8.7" fill="#000">10</text>
<text x="45.2" y="65.67" text-anchor="end" font-family="Liberation Sans, Arial, Helvetica, sans-serif" font-weight="bold" font-size="8.7" fill="#000">12</text>
<text x="45.2" y="57.99" text-anchor="end" font-family="Liberation Sans, Arial, Helvetica, sans-serif" font-weight="bold" font-size="8.7" fill="#000">14</text>
<text x="45.2" y="50.31" text-anchor="end" font-family="Liberation Sans, Arial, Helvetica, sans-serif" font-weight="bold" font-size="8.7" fill="#000">16</text>
<text x="45.2" y="42.63" text-anchor="end" font-family="Liberation Sans, Arial, Helvetica, sans-serif" font-weight="bold" font-size="8.7" fill="#000">18</text>
<text x="45.2" y="34.95" text-anchor="end" font-family="Liberation Sans, Arial, Helvetica, sans-serif" font-weight="bold" font-size="8.7" fill="#000">20</text>
<text x="45.2" y="27.27" text-anchor="end" font-family="Liberation Sans, Arial, Helvetica, sans-serif" font-weight="bold" font-size="8.7" fill="#000">22</text>
<text x="62.40" y="116.1" text-anchor="middle" font-family="Liberation Sans, Arial, Helvetica, sans-serif" font-weight="bold" font-size="8.7" fill="#000">300</text>
<text x="103.55" y="116.1" text-anchor="middle" font-family="Liberation Sans, Arial, Helvetica, sans-serif" font-weight="bold" font-size="8.7" fill="#000">320</text>
<text x="144.70" y="116.1" text-anchor="middle" font-family="Liberation Sans, Arial, Helvetica, sans-serif" font-weight="bold" font-size="8.7" fill="#000">340</text>
<text x="185.85" y="116.1" text-anchor="middle" font-family="Liberation Sans, Arial, Helvetica, sans-serif" font-weight="bold" font-size="8.7" fill="#000">360</text>
<text x="227.00" y="116.1" text-anchor="middle" font-family="Liberation Sans, Arial, Helvetica, sans-serif" font-weight="bold" font-size="8.7" fill="#000">380</text>
<text x="268.15" y="116.1" text-anchor="middle" font-family="Liberation Sans, Arial, Helvetica, sans-serif" font-weight="bold" font-size="8.7" fill="#000">400</text>
<text x="309.30" y="116.1" text-anchor="middle" font-family="Liberation Sans, Arial, Helvetica, sans-serif" font-weight="bold" font-size="8.7" fill="#000">420</text>
<text x="350.45" y="116.1" text-anchor="middle" font-family="Liberation Sans, Arial, Helvetica, sans-serif" font-weight="bold" font-size="8.7" fill="#000">440</text>
<polyline fill="none" stroke="#0000ff" stroke-width="1" shape-rendering="crispEdges" points="75.5,101.5 85.5,102.5 95.5,102.5 97.5,102.5 116.5,102.5 120.5,102.5 128.5,102.5 131.5,102.5 134.5,102.5 143.5,101.5 145.5,100.5 146.5,100.5 146.5,101.5 148.5,101.5 149.5,101.5 153.5,99.5 154.5,99.5 155.5,101.5 157.5,101.5 158.5,102.5 159.5,101.5 164.5,100.5 165.5,101.5 167.5,101.5 171.5,101.5 172.5,102.5 173.5,102.5 175.5,101.5 176.5,101.5 177.5,101.5 178.5,101.5 180.5,100.5 185.5,100.5 186.5,100.5 187.5,100.5 189.5,101.5 190.5,100.5 192.5,100.5 194.5,101.5 195.5,101.5 196.5,101.5 197.5,100.5 200.5,100.5 200.5,100.5 201.5,101.5 202.5,100.5 206.5,102.5 206.5,101.5 208.5,101.5 209.5,100.5 210.5,100.5 212.5,91.5 212.5,102.5 215.5,102.5 216.5,100.5 218.5,102.5 219.5,100.5 220.5,101.5 222.5,101.5 222.5,102.5 223.5,102.5 225.5,101.5 226.5,100.5 227.5,101.5 228.5,101.5 229.5,100.5 231.5,102.5 233.5,101.5 234.5,102.5 235.5,101.5 237.5,101.5 238.5,102.5 239.5,99.5 240.5,101.5 242.5,100.5 243.5,100.5 244.5,100.5 244.5,101.5 245.5,101.5 247.5,101.5 248.5,101.5 250.5,100.5 252.5,101.5 253.5,102.5 254.5,100.5 256.5,102.5 257.5,100.5 259.5,102.5 260.5,100.5 262.5,102.5 263.5,101.5 264.5,101.5 265.5,102.5 267.5,101.5 268.5,100.5 270.5,101.5 271.5,101.5 272.5,101.5 272.5,101.5 274.5,101.5 275.5,101.5 277.5,101.5 278.5,101.5 279.5,101.5 281.5,101.5 282.5,101.5 282.5,100.5 283.5,100.5 285.5,100.5 287.5,101.5 289.5,101.5 290.5,101.5 291.5,101.5 292.5,101.5 293.5,99.5 295.5,100.5 296.5,100.5 297.5,102.5 298.5,100.5 300.5,100.5 301.5,100.5 302.5,101.5 304.5,100.5 306.5,101.5 307.5,100.5 308.5,99.5 309.5,100.5 310.5,101.5 313.5,100.5 314.5,67.5 314.5,101.5 318.5,100.5 319.5,100.5 320.5,101.5 322.5,101.5 324.5,101.5 325.5,101.5 327.5,100.5 328.5,101.5 329.5,100.5 331.5,25.5 331.5,100.5 334.5,101.5 336.5,101.5 337.5,101.5 340.5,101.5 341.5,101.5 343.5,100.5"/>
<use href="#m" x="75.5" y="101.5"/><use href="#m" x="85.5" y="102.5"/><use href="#m" x="95.5" y="102.5"/><use href="#m" x="97.5" y="102.5"/><use href="#m" x="116.5" y="102.5"/><use href="#m" x="120.5" y="102.5"/><use href="#m" x="128.5" y="102.5"/><use href="#m" x="131.5" y="102.5"/><use href="#m" x="134.5" y="102.5"/><use href="#m" x="143.5" y="101.5"/><use href="#m" x="145.5" y="100.5"/><use href="#m" x="146.5" y="100.5"/><use href="#m" x="146.5" y="101.5"/><use href="#m" x="148.5" y="101.5"/><use href="#m" x="149.5" y="101.5"/><use href="#m" x="153.5" y="99.5"/><use href="#m" x="154.5" y="99.5"/><use href="#m" x="155.5" y="101.5"/><use href="#m" x="157.5" y="101.5"/><use href="#m" x="158.5" y="102.5"/><use href="#m" x="159.5" y="101.5"/><use href="#m" x="164.5" y="100.5"/><use href="#m" x="165.5" y="101.5"/><use href="#m" x="167.5" y="101.5"/><use href="#m" x="171.5" y="101.5"/><use href="#m" x="172.5" y="102.5"/><use href="#m" x="173.5" y="102.5"/><use href="#m" x="175.5" y="101.5"/><use href="#m" x="176.5" y="101.5"/><use href="#m" x="177.5" y="101.5"/><use href="#m" x="178.5" y="101.5"/><use href="#m" x="180.5" y="100.5"/><use href="#m" x="185.5" y="100.5"/><use href="#m" x="186.5" y="100.5"/><use href="#m" x="187.5" y="100.5"/><use href="#m" x="189.5" y="101.5"/><use href="#m" x="190.5" y="100.5"/><use href="#m" x="192.5" y="100.5"/><use href="#m" x="194.5" y="101.5"/><use href="#m" x="195.5" y="101.5"/><use href="#m" x="196.5" y="101.5"/><use href="#m" x="197.5" y="100.5"/><use href="#m" x="200.5" y="100.5"/><use href="#m" x="200.5" y="100.5"/><use href="#m" x="201.5" y="101.5"/><use href="#m" x="202.5" y="100.5"/><use href="#m" x="206.5" y="102.5"/><use href="#m" x="206.5" y="101.5"/><use href="#m" x="208.5" y="101.5"/><use href="#m" x="209.5" y="100.5"/><use href="#m" x="210.5" y="100.5"/><use href="#m" x="212.5" y="91.5"/><use href="#m" x="212.5" y="102.5"/><use href="#m" x="215.5" y="102.5"/><use href="#m" x="216.5" y="100.5"/><use href="#m" x="218.5" y="102.5"/><use href="#m" x="219.5" y="100.5"/><use href="#m" x="220.5" y="101.5"/><use href="#m" x="222.5" y="101.5"/><use href="#m" x="222.5" y="102.5"/><use href="#m" x="223.5" y="102.5"/><use href="#m" x="225.5" y="101.5"/><use href="#m" x="226.5" y="100.5"/><use href="#m" x="227.5" y="101.5"/><use href="#m" x="228.5" y="101.5"/><use href="#m" x="229.5" y="100.5"/><use href="#m" x="231.5" y="102.5"/><use href="#m" x="233.5" y="101.5"/><use href="#m" x="234.5" y="102.5"/><use href="#m" x="235.5" y="101.5"/><use href="#m" x="237.5" y="101.5"/><use href="#m" x="238.5" y="102.5"/><use href="#m" x="239.5" y="99.5"/><use href="#m" x="240.5" y="101.5"/><use href="#m" x="242.5" y="100.5"/><use href="#m" x="243.5" y="100.5"/><use href="#m" x="244.5" y="100.5"/><use href="#m" x="244.5" y="101.5"/><use href="#m" x="245.5" y="101.5"/><use href="#m" x="247.5" y="101.5"/><use href="#m" x="248.5" y="101.5"/><use href="#m" x="250.5" y="100.5"/><use href="#m" x="252.5" y="101.5"/><use href="#m" x="253.5" y="102.5"/><use href="#m" x="254.5" y="100.5"/><use href="#m" x="256.5" y="102.5"/><use href="#m" x="257.5" y="100.5"/><use href="#m" x="259.5" y="102.5"/><use href="#m" x="260.5" y="100.5"/><use href="#m" x="262.5" y="102.5"/><use href="#m" x="263.5" y="101.5"/><use href="#m" x="264.5" y="101.5"/><use href="#m" x="265.5" y="102.5"/><use href="#m" x="267.5" y="101.5"/><use href="#m" x="268.5" y="100.5"/><use href="#m" x="270.5" y="101.5"/><use href="#m" x="271.5" y="101.5"/><use href="#m" x="272.5" y="101.5"/><use href="#m" x="272.5" y="101.5"/><use href="#m" x="274.5" y="101.5"/><use href="#m" x="275.5" y="101.5"/><use href="#m" x="277.5" y="101.5"/><use href="#m" x="278.5" y="101.5"/><use href="#m" x="279.5" y="101.5"/><use href="#m" x="281.5" y="101.5"/><use href="#m" x="282.5" y="101.5"/><use href="#m" x="282.5" y="100.5"/><use href="#m" x="283.5" y="100.5"/><use href="#m" x="285.5" y="100.5"/><use href="#m" x="287.5" y="101.5"/><use href="#m" x="289.5" y="101.5"/><use href="#m" x="290.5" y="101.5"/><use href="#m" x="291.5" y="101.5"/><use href="#m" x="292.5" y="101.5"/><use href="#m" x="293.5" y="99.5"/><use href="#m" x="295.5" y="100.5"/><use href="#m" x="296.5" y="100.5"/><use href="#m" x="297.5" y="102.5"/><use href="#m" x="298.5" y="100.5"/><use href="#m" x="300.5" y="100.5"/><use href="#m" x="301.5" y="100.5"/><use href="#m" x="302.5" y="101.5"/><use href="#m" x="304.5" y="100.5"/><use href="#m" x="306.5" y="101.5"/><use href="#m" x="307.5" y="100.5"/><use href="#m" x="308.5" y="99.5"/><use href="#m" x="309.5" y="100.5"/><use href="#m" x="310.5" y="101.5"/><use href="#m" x="313.5" y="100.5"/><use href="#m" x="314.5" y="67.5"/><use href="#m" x="314.5" y="101.5"/><use href="#m" x="318.5" y="100.5"/><use href="#m" x="319.5" y="100.5"/><use href="#m" x="320.5" y="101.5"/><use href="#m" x="322.5" y="101.5"/><use href="#m" x="324.5" y="101.5"/><use href="#m" x="325.5" y="101.5"/><use href="#m" x="327.5" y="100.5"/><use href="#m" x="328.5" y="101.5"/><use href="#m" x="329.5" y="100.5"/><use href="#m" x="331.5" y="25.5"/><use href="#m" x="331.5" y="100.5"/><use href="#m" x="334.5" y="101.5"/><use href="#m" x="336.5" y="101.5"/><use href="#m" x="337.5" y="101.5"/><use href="#m" x="340.5" y="101.5"/><use href="#m" x="341.5" y="101.5"/><use href="#m" x="343.5" y="100.5"/>
<rect x="12.5" y="6.5" width="322.00" height="12.00" fill="#fff" stroke="#000" stroke-width="1" shape-rendering="crispEdges"/>
<text x="171.8" y="14.6" text-anchor="middle" font-family="Liberation Sans, Arial, Helvetica, sans-serif" font-weight="bold" font-size="9" fill="#000">South Sta-3 Oct-6 RMS vrs Day (Packet 11152)</text>
</g>
</svg>
</body></html>
